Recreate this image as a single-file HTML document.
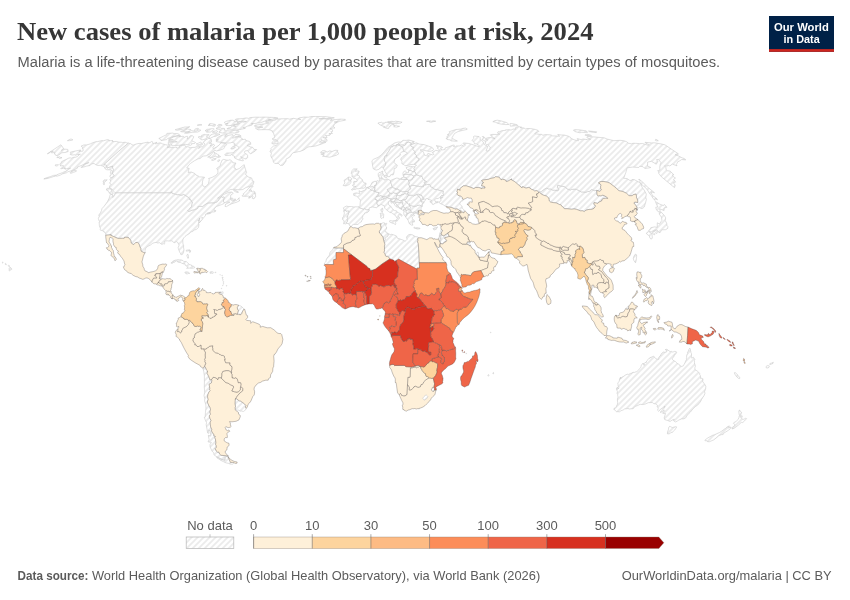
<!DOCTYPE html>
<html lang="en"><head><meta charset="utf-8"><title>New cases of malaria per 1,000 people at risk, 2024</title>
<style>
html,body{margin:0;padding:0;background:#fff;}
body{width:850px;height:600px;overflow:hidden;position:relative;font-family:"Liberation Sans",sans-serif;}
svg{position:absolute;left:0;top:0;font-family:"Liberation Sans",sans-serif;}
.nd path{fill:url(#h);stroke:#c6c6c6;stroke-width:.55;stroke-linejoin:round;}
.dt path{stroke:#403a38;stroke-opacity:.6;stroke-width:.5;stroke-linejoin:round;}
.title{font-family:"Liberation Serif",serif;font-weight:bold;font-size:24.6px;fill:#363636;}
.sub{font-size:14px;fill:#5b5b5b;}
.foot{font-size:12.2px;fill:#5b5b5b;}
.lg text{font-size:13px;fill:#5b5b5b;}
</style></head><body>
<svg width="850" height="600" viewBox="0 0 850 600">
<defs>
<pattern id="h" width="6" height="6" patternUnits="userSpaceOnUse" patternTransform="translate(3,0)">
<rect width="6" height="6" fill="#fff"/><path d="M-1.5,1.5L1.5,-1.5M0,6L6,0M4.5,7.5L7.5,4.5" stroke="#ebebeb" stroke-width="1.7"/>
</pattern>
</defs>
<rect width="850" height="600" fill="#fff"/>
<g class="nd">
<path d="M396.3,260.5L394.8,261.5L393.5,260L389.9,258.9L388.9,257.3L387.1,256.1L386,256.5L385.2,255.1L385.1,254L383.7,252.1L384.6,251L384.4,249.3L384.6,247.9L384.4,246.7L384.8,244.6L384.6,243.4L383.8,241L384.9,240.4L385.1,239.3L384.8,238.3L386.3,237.2L386.9,236.4L388,235.7L388,233.7L390.6,234.6L391.5,234.3L393.4,234.8L396.4,235.9L397.5,238.3L399.5,238.8L402.7,239.9L405.1,241.2L406.1,240.5L407.1,239.3L406.5,237.3L407.1,236L408.6,234.8L410.1,234.4L413.1,235L413.9,236.1L414.8,236.1L415.5,236.6L417.7,236.9L418.3,237.8L417.6,239L418,240.1L417.5,241.7L418.3,243.8L418.9,253.1L419.3,262.7L419.5,268L416.9,268L416.9,269.1L407.7,264.1L398.6,259.1Z"/>
<path d="M427.2,395.8L427.9,396.6L427.2,397.9L426.7,398.7L425.5,399.1L425,400L424.2,400.2L422.7,398.2L424,396.6L425.2,395.5L426.3,395Z"/>
<path d="M343.5,248L343.5,248.7L343.4,252.6L336,252.5L336,259.2L333.8,259.4L333.3,260.7L333.6,264.5L324.8,264.5L324.3,265.4L324.4,264.3L324.5,263L325.4,262.3L326.2,261L326,260.1L326.9,258.3L328.2,256.6L328.9,256.2L329.6,254.6L329.7,253.2L330.5,251.6L332.1,250.7L333.5,248L333.5,247.9Z"/>
<path d="M434.5,390L434,391.2L432.7,391.5L431.4,390L431.5,389.1L432.2,388.2L432.4,387.4L433.1,387.2L434.2,387.7L434.4,388.9Z"/>
<path d="M383.8,241L382.8,236.4L381.4,235.3L381.3,234.7L379.5,233.1L379.3,231.1L380.6,229.7L381,227.5L380.6,225.1L381,223.7L383.3,222.7L384.8,223L384.8,224.3L386.6,223.3L386.8,223.8L385.8,225.1L385.8,226.3L386.6,227L386.4,229.2L385,230.5L385.4,232L386.6,232L387.2,233.2L388,233.7L388,235.7L386.9,236.4L386.3,237.2L384.8,238.3L385.1,239.3L384.9,240.4Z"/>
<path d="M477,255.5L476.6,253.6L477.1,252.3L477.7,252L478.4,252.8L478.6,254.3L478.3,255.9L477.7,256.1Z"/>
<path d="M626,308.4L626.9,307.4L628.8,306L628.7,307.3L628.7,308.9L627.6,308.8L627.1,309.7Z"/>
<path d="M636.6,256.5L636.1,260.7L635.5,262.8L633.9,260.6L633.3,258.7L634,256.1L635.4,254.1L636.6,254.9Z"/>
<path d="M656.7,231L657.3,231.9L656.8,233.5L655.5,232.7L654.7,233.3L654.7,234.8L653,234L652.5,232.8L653,231.2L654.4,231.5L654.8,230.5ZM666.7,223.2L666.9,225.3L667.9,226.6L667.7,228.4L665.5,229.7L661.7,229.8L660,232.8L658.1,231.8L657.1,229.8L653.6,230.4L651.5,231.7L649,231.7L652,233.6L652.3,238.1L651.3,239.2L649.9,238.1L649.5,235.8L647.8,235L646.2,233.2L647.9,232.4L648.4,230.8L650,229.4L650.8,227.7L654.7,226.9L657.3,227.4L657.3,222.8L659.4,224L661.2,221.4L661.9,220.4L661.5,217.2L659.4,214.3L659.3,212.7L661.3,212.2L664.6,215.8L665.7,217.9L665.2,220.5ZM661.9,205L663.7,205.5L664.4,204.4L666.9,207.3L664.2,208L664.1,210.6L659.6,208.8L660.3,211.7L658,211.7L656.1,209.1L655.8,207.2L657.9,207L656.2,203.5L655.4,201.5L659.7,204.1Z"/>
<path d="M539.4,191.9L541.3,191.5L544.1,189.3L546.5,188.1L548.6,188.9L550.7,188.9L552.7,190.1L554.7,190.2L558,190.8L558.9,189.1L557.3,187.6L557.8,185L560.7,186L562.6,186.3L565.4,186.9L566.9,188.8L570.3,189.9L571.9,189.4L574.3,189.1L576.5,189.4L579.1,190.6L581.1,191.9L583,191.9L585.8,192.3L587.2,191.7L589.6,191.3L591.4,189.5L592.8,189.8L594.4,190.6L596.7,190.4L596.9,192.3L597,194.9L598.2,195.9L599.1,195.6L601.4,196L602.3,195L604.5,195.8L607.4,197.6L607.7,198.5L605.9,198.2L603.2,198.6L602.1,199.3L601.6,201L599,202L597.7,203.4L595.3,202.8L594,202.6L593.8,204.3L595,205.2L595.8,206.1L594.8,207L594,208.3L592,209.3L588.9,209.4L585.9,210.2L584.2,211.6L582.8,210.8L580.3,210.8L576.5,209.3L574.2,208.9L571.6,209.2L567,208.7L564.7,208.7L562.8,207.2L560.8,204.8L559.4,204.5L556.2,202.9L553.2,202.6L550.6,202.1L549.3,201L548.8,198L546.4,196L543.1,195L540.8,193.7Z"/>
<path d="M177.5,259.6L179.4,259.8L181.2,259.9L183.2,260.7L184,261.7L186.1,261.4L186.8,262L188.5,263.6L189.8,264.8L190.6,264.8L191.8,265.3L191.6,266L193.3,266.2L194.8,267.2L194.5,267.8L193,268.2L191.4,268.3L189.9,268.1L186.6,268.3L188.3,266.9L187.5,266.2L186,266L185.3,265.3L185,263.8L183.7,263.9L181.7,263.2L181,262.6L178.2,262.2L177.4,261.7L178.4,261.1L176.2,260.9L174.4,262.3L173.4,262.3L173,263L171.9,263.3L170.9,263L172.2,262.2L172.8,261.3L173.9,260.7L175.2,260.2L176.9,259.9Z"/>
<path d="M186.6,271.9L188.1,272.1L189.3,272.8L189.6,273.5L188,273.5L187.2,274L186,273.6L184.8,272.6L185.2,272L186.1,271.8Z"/>
<path d="M212.3,271.8L213.4,272.1L213.8,272.6L213.1,273.3L211.4,273.2L210.1,273.3L210.1,272.2L210.4,271.8Z"/>
<path d="M188.4,258.1L187.8,258.3L187.4,256.8L186.7,256L187.4,254.4L188.1,254.5L188.5,256.6ZM188.8,250.8L186.3,251.2L186.3,250.2L187.4,250L188.9,250.1ZM190.7,250.8L190,252.6L189.6,252.3L189.9,250.9L189,249.9L189.1,249.6Z"/>
<path d="M172.2,191.7L171.8,193.1L172.3,193.5L173.6,193.6L175.5,194.1L177,194.8L178.8,194.5L181,195.2L181.7,195.1L183.8,194.4L185.3,195.3L186.9,196.3L188.2,197.2L189.4,198L189.3,198.7L189.7,198.9L189.4,199.2L190,199.3L190.5,199L190.3,199.6L190.6,200L191.1,200L191.3,200.3L190.9,200.8L192.5,202L192,204.3L191.6,206.5L190.4,208.1L188.9,209.5L188.1,210.4L187.9,210.7L188,211L188.6,211.4L189.1,211.4L192.1,210.1L194.4,209.7L197.6,208.4L197.7,208.1L197.8,207.3L197.7,206.8L198.8,206.4L200.8,206.4L202.7,206.4L203.8,205.4L204.1,205.2L207,203.3L208.1,202.9L211.2,202.8L215,202.8L215.4,202.2L216.1,202.1L217.2,201.7L218.3,200.5L219.6,198.5L221.8,196.6L222.3,197.3L223.8,196.8L224.5,197.6L223.3,201.1L224.2,202.5L224.2,203.4L221.6,204.6L219.2,205.5L216.8,206.3L215.1,207.8L214.6,208.4L214.1,209.7L214.4,211.1L215.2,211.2L215.3,210.2L215.8,210.8L215.4,211.5L213.8,212L212.8,211.9L211.1,212.4L210.2,212.5L208.9,212.6L206.9,213.4L210.1,212.9L210.6,213.4L207.4,214.1L206.1,214.1L206.2,213.8L205.4,214.5L205.9,214.7L204.9,216.5L202.8,218.5L202.8,217.9L202.4,217.7L201.9,217.1L201.9,218.5L202.3,218.9L202,219.9L201,220.9L199.2,223L199.1,222.9L200.2,221.1L199.4,220.1L199.8,218L199.1,219.1L199,220.8L197.8,220.4L199,221.2L198.4,223.7L198.9,223.8L198.9,224.7L198.5,227.4L196.6,229.3L194.2,230.1L192.4,231.6L191.2,231.8L189.9,232.7L189.4,233.6L186.5,235.3L185,236.5L183.6,238.1L182.8,239.9L182.8,241.8L183,244L183.7,245.8L183.5,247L184,250L183.6,251.8L183.3,252.8L182.5,254.4L181.8,254.7L180.7,254.4L180.6,253.2L179.8,252.6L179,250.4L178.3,248.4L178.2,247.4L179,245.6L178.7,244.2L177.4,242L176.6,241.6L174.1,242.8L173.8,242.7L173,241.5L171.7,240.8L169.2,241.1L167.3,240.8L165.5,241L164.5,241.4L164.8,242.1L164.5,243.2L164.8,243.7L164.3,244L163.6,243.7L162.6,244.2L161,244.1L159.7,242.7L157.7,243L156.2,242.4L154.8,242.6L152.8,243.2L150.3,245.1L147.8,246.3L146.3,247.5L145.5,248.7L145.1,250.5L145,251.7L145.2,252.6L144.3,252.7L142.9,252.1L141.3,251.3L140.9,250.1L140.8,248.3L139.9,246.8L139.5,245.3L138.8,243.5L137.5,242.4L135.7,242.5L133.8,244.5L132.1,243.8L131.2,243L131,241.5L130.7,240.2L129.7,239L128.9,238.2L128.3,237.3L124.5,237.3L124.2,238.3L122.4,238.3L118,238.4L113.6,236.5L110.8,235.3L111.1,234.7L108.3,235L105.7,235.2L105.8,233.9L104.9,232.4L104,232.1L104.1,231.3L102.9,231.2L102.4,230.5L100.5,230.2L100.1,229.8L100.4,228.4L99.4,225.8L99.2,222.1L99.6,221.5L99,220.7L98.4,218.5L99.2,216.4L98.8,215L100.4,212.8L101.5,210.6L102,208.6L104.2,206.2L105.8,203.9L107.5,201.5L109.2,198.1L109.9,195.9L110.1,194.7L110.7,194.2L113.1,195.1L112.6,197.5L113.6,196.8L114.5,194.7L115.2,192.7L120.9,192.7L126.9,192.7L128.9,192.7L135,192.7L141,192.7L147,192.7L153.1,192.7L159.9,192.7L166.8,192.7L171,192.7L171.5,191.7ZM73.4,172.4L70.6,173.4L70.2,172.7L71.2,171.6L73.8,170.7L75.2,170.4L76.3,170.5L76.3,171.3ZM57.5,165.7L56,166.1L55.3,165.6L55,165L57.3,164.6L58.5,164.8ZM58,156.6L58.5,157L60,156.8L60.6,157.4L62,157.7L61.5,157.9L59.5,158.4L58.8,157.9L58.7,157.5L56.9,157.6L56.8,157.4ZM109.3,140.1L109.1,141L110.4,140.6L113,140.7L112.2,141.2L114.2,141.6L116.2,141.4L118.8,142.1L121.7,142.3L122.6,142.6L125.2,142.2L126.9,142.9L128.3,143.2L118.4,151.5L103.8,164.8L105.6,164.8L106.7,165.5L106.9,166.5L107,168.1L110.1,166.8L112.8,166L112.5,167.2L112.8,168.2L113.5,169.3L113.1,171L112.5,173.8L114.3,175.4L113.1,176.9L111,178.1L110.7,177.2L109.7,176.4L111,174.3L110.4,172.3L111.5,170L109.8,169.8L106.9,169.8L105.4,169.1L104,166.6L102.7,166.1L100.4,165.3L97.6,165.5L95.2,164.4L94.1,163.4L91.5,163.9L90.1,165.5L88.9,165.7L86.2,166.2L83.7,167L81.1,167.5L82.4,166.1L85.8,163.8L88.6,163L88.7,162.4L84.9,163.7L81.9,165.3L77.4,167L77.4,168.2L73.8,169.9L70.7,171L68,171.7L66.4,172.8L62,174L60.2,175.2L56.9,176.2L55.7,176L53.2,176.7L50.4,177.6L47.9,178.4L43.8,179.1L44,178.7L47.3,177.5L50,176.8L53.5,175.4L56.2,175.2L58.2,174.2L62.4,172.7L63.4,172.2L65.7,171.3L68,169.5L70.6,168.1L67.6,168.8L67.5,168.4L65.5,169.3L65.6,168L64.2,168.9L64.8,167.7L61.9,168.7L60.7,168.7L62.2,167.2L63.6,166.4L63.4,165.5L60.5,166L60.3,164.8L59.7,164.3L61.3,162.9L61.2,161.9L63.6,160.6L66.7,159.2L68.9,158L70.5,157.9L71.3,158.2L74.1,157.1L75.2,157.3L77.4,156.6L78.5,155.5L78,155.1L80.4,154.2L79.3,154.3L76.8,154.8L75.6,155.3L74.9,154.8L72.1,155L70.2,154.5L70.7,153.5L70.3,152.2L74,151.3L79.4,150.2L80.8,150.2L79.1,151.3L82.8,151.2L83.3,149.8L82.4,148.9L82.7,147.8L82.4,146.9L81.1,146.2L83.7,145L86.8,144.9L90.3,143.9L92.3,142.9L95.5,141.8L97.5,141.6L102,140.6L103.3,140.8L107.5,139.6ZM9.9,270.4L9.4,270.8L8.9,270.4L9.2,269.7L9,268.7L9.2,268.5L9.7,268L9.7,267.5L9.8,267.3L10,267.3L10.8,267.8L11.1,268L11.4,268.3L11.8,269.3L11.7,269.4L10.7,270ZM9.6,266.3L8.8,266.5L8.5,265.9L8.3,265.7L8.3,265.5L8.6,265.3L9.3,265.6L9.8,266ZM6.4,264.5L6.3,264.7L6.1,264.6L5.4,264.5L5.2,263.9L5.1,263.8L5.8,263.5L6,263.7ZM3,262.8L2.7,263L2.1,262.6L2.2,262.4L2.6,262.1L3.1,262.2Z"/>
<path d="M232.5,198.9L233.8,199.2L235.8,199.2L234.4,200.2L233.6,200.4L231.3,199.3L231.1,198.4L232.1,197.7ZM238.3,192.4L237.3,192.4L235,191.6L233.6,190.4L234.3,190.2L236.7,190.9L238.4,191.9ZM113,193.9L111.8,194.3L109.2,193.1L109.2,192.2L108,191.3L108.2,190.6L106.4,190.1L106.7,188.8L107.3,188.2L108.9,188.7L109.9,189.1L111.6,189.4L111.7,190.3L111.8,191.5L113.1,192.5ZM251,188.4L249,190.6L250.6,189.7L251.7,190.3L250.8,191.2L252.3,191.9L253.4,191.2L255.2,192L254.1,193.9L255.6,193.4L255.5,194.8L255.7,196.4L254.2,198.6L253.3,198.7L252.1,198.2L253.1,196.2L252.6,195.8L249.6,198L248.4,197.9L250.2,196.8L248.4,196.1L246.2,196.3L242.3,196.2L242.2,195.5L243.7,194.6L243.1,193.9L245.2,192.3L248.6,188.3L250.3,186.9L252.3,186L253.2,186.1L252.6,186.8ZM104.5,179.7L105.2,180L107.2,179.8L104.3,182.6L104.4,184.6L103.6,184.6L103.3,183.5L103.5,182.3L103.2,181.6L103.7,180.5ZM219.8,160.4L218.4,161.6L217.7,161.4L217.7,160.7L217.8,160.5L219,159.8L219.7,159.9ZM215.9,159.1L213,160.4L211.7,160.3L211.7,159.7L213.8,158.6L216.2,158.6ZM214.6,152.2L214.3,153.3L215.4,152.9L216,153.5L217.4,154.3L218.9,155L218.4,156.1L219.8,155.9L220.6,156.7L218.6,157.4L216.1,156.9L215.8,155.8L213.3,157.1L209.9,158.3L210.2,156.9L207.7,157.1L210,156L211.4,154.2L213.5,152.1ZM130.8,143.7L132.1,144.8L133.6,145L136.2,144L139,143.4L141.2,143.6L144.8,142.7L148.2,142.1L148.3,143L150.1,142.5L151.6,141.5L152.5,141.7L153.1,143.7L157,142.2L155.3,143.9L157.8,143.5L159.1,142.9L161,143L162.5,143.9L165.6,144.7L167.5,145.1L169.3,144.9L170.5,146.1L167,147.2L169.6,147.7L174.5,147.4L176.3,147L176.9,148.3L179.8,147.2L178.9,146.3L180.7,145.5L182.8,145.4L184.4,145.2L185.3,145.7L185.9,146.9L187.9,146.7L190.1,147.7L193,147.4L195.4,147.4L196.4,146.1L198.2,145.7L200.2,146.4L198.5,148.5L201,146.8L202.3,146.8L204.9,144.6L204.3,143.2L203.1,142.4L205.3,140L208.7,138.4L210.5,138.8L211.3,139.7L211.5,142.1L209.1,143.2L211.9,143.6L210.1,145.9L213.7,144.2L214.6,145.6L212.8,147.2L213.3,148.8L216.3,147.1L219,145.2L220.9,142.8L223.1,143L225.3,143.3L226.8,144.4L226.1,145.5L224,146.7L224.4,147.9L223.4,148.9L219,150.5L216.3,150.9L215,150.2L213.7,151.3L210.7,153.3L209.4,154.3L206.3,155.8L203.7,156L201.6,157L200.4,158.5L198.1,158.8L194.5,160.7L190.7,163.3L188.7,165.2L186.7,168L189.2,168.4L188.5,170.7L188.2,172.5L191.2,172L194,173.1L195.4,174L196.1,175.2L198.1,175.9L199.5,176.9L202.6,177L204.6,177.3L203.1,179.4L202.4,181.9L202.4,184.7L204.2,187.1L206.1,186.3L208.4,183.7L209.3,179.8L208.6,178.5L212.3,177.3L215.4,175.6L217.3,173.9L218,172.2L217.8,170.2L216.6,168.4L220.2,165.8L220.6,163.7L222.2,160L223.7,159.4L226.4,160.1L228.2,160.3L230,159.7L231.2,160.5L232.7,161.9L232.8,162.8L235.9,163L234.9,165L233.9,168L235.5,168.4L236.1,169.8L239.5,168.4L242.5,165.8L244.2,164.7L244.7,166.8L245.7,169.9L246.6,172.8L245.2,174.3L247.1,175.7L248.3,177.1L251.1,177.8L252.1,178.6L252.1,180.7L253.5,181L253.9,181.9L253.1,184.7L251.4,185.7L249.6,186.5L246.1,187.4L242.9,189.5L239.3,189.9L235.2,189.4L232.3,189.4L230.1,189.5L227.8,191.4L224.8,192.5L220.7,195.8L217.5,198.2L219.3,197.8L223.8,194.4L228.8,192.3L231.9,192.1L233.3,193.3L230.8,195L230.5,197.8L230.5,199.7L232.8,201L236.3,200.6L239.3,197.7L238.8,199.6L239.9,200.5L236.8,202.2L231.8,203.7L229.4,204.8L226.5,206.6L225,206.4L225.6,204.2L229.9,202.1L226.6,202.2L224.2,202.5L223.3,201.1L224.5,197.6L223.8,196.8L222.3,197.3L221.8,196.6L219.6,198.5L218.3,200.5L217.2,201.7L216.1,202.1L215.4,202.2L215,202.8L211.2,202.8L208.1,202.9L207,203.3L204.1,205.2L203.8,205.4L202.7,206.4L200.8,206.4L198.8,206.4L197.7,206.8L197.8,207.3L197.7,208.1L197.6,208.4L194.4,209.7L192.1,210.1L189.1,211.4L188.6,211.4L188,211L187.9,210.7L188.1,210.4L188.9,209.5L190.4,208.1L191.6,206.5L192,204.3L192.5,202L190.9,200.8L191.3,200.3L191.1,200L190.6,200L190.3,199.6L190.5,199L190,199.3L189.4,199.2L189.7,198.9L189.3,198.7L189.4,198L188.2,197.2L186.9,196.3L185.3,195.3L183.8,194.4L181.7,195.1L181,195.2L178.8,194.5L177,194.8L175.5,194.1L173.6,193.6L172.3,193.5L171.8,193.1L172.2,191.7L171.5,191.7L171,192.7L166.8,192.7L159.9,192.7L153.1,192.7L147,192.7L141,192.7L135,192.7L128.9,192.7L126.9,192.7L120.9,192.7L115.2,192.7L114.9,192.6L112.7,190.2L112.1,189.1L109.2,188L109.8,185.8L111.2,184.3L109.5,183.2L110.8,181.2L109.9,179.4L111,178.1L113.1,176.9L114.3,175.4L112.5,173.8L113.1,171L113.5,169.3L112.8,168.2L112.5,167.2L112.8,166L110.1,166.8L107,168.1L106.9,166.5L106.7,165.5L105.6,164.8L103.8,164.8L118.4,151.5L128.3,143.2ZM227.3,134.5L224.9,135.8L225,137.1L228,135.4L232.7,134.6L233.7,136.7L232.3,138.1L236,137.5L238.2,136.7L240.9,137.7L242.4,138.7L242,139.7L245.3,139.2L246.1,140.6L249.5,141.4L250.4,142.3L250.8,144.3L247.1,145.4L250.2,146.8L252.6,147.3L254,149.4L256.6,149.5L255.2,151.1L250.8,153.8L249.2,152.8L247.6,150.6L245.2,150.9L244.3,152.2L245.4,153.5L247.2,154.6L247.6,155.2L247.6,157.5L246.2,159.1L244.2,158.5L240.7,156.6L242.2,158.7L243.3,160.1L243.2,160.9L238.8,160L235.7,158.6L234.1,157.5L235.1,156.8L233.2,155.6L231.3,154.5L230.9,155.2L225.6,155.5L224.6,154.7L226.8,153L230.1,153L233.8,152.7L233.8,151.9L235,150.8L238.6,148.6L238.8,147.6L238.6,146.8L236.7,145.7L233.8,145L235.2,144.4L234.4,143L233,142.9L232.2,142.2L230.9,142.8L227.7,143.1L222,142.6L219,142L216.6,141.7L215.8,140.9L218.3,139.9L216,139.9L217.4,137.7L220.3,135.9L222.7,135ZM179.7,135.5L180.8,135.9L178.9,136.9L183.2,136.2L184.2,137.3L187.2,136.2L187.9,136.9L187.1,139L188.8,138.1L190,135.9L191.7,135.6L192.9,136L193.8,136.8L192.7,138.9L191.7,140.4L193.5,141.5L195.5,142.5L194.4,143.5L191.5,143.6L191.8,144.5L190.6,145.3L187.8,144.9L185.5,144.3L183.4,144.5L179.6,145.2L175,145.6L171.8,145.8L171.9,144.7L170.2,144.1L168.5,144.4L168.2,142.6L169.6,142.4L172.5,142L174.8,142.1L177.3,141.8L174.6,141.2L170.9,141.4L168.6,141.4L168.6,140.6L173.4,139.7L170.8,139.7L168.6,139.2L171.8,137.6L173.9,136.8ZM172.6,133.1L174.3,133.6L178.1,133.7L178.9,134.3L179.6,135.1L176.9,135.7L171.3,137.1L167.5,138.6L166.5,139.6L161,140.6L161.2,139.7L158.8,138.5L160.6,137.6L163.6,136.1L166.7,134.7L166.9,133.4ZM269.6,117.3L273.1,117.4L275.9,117.6L278,118L277.6,118.4L273.6,119.1L269.9,119.4L268.3,119.8L271.3,119.8L267.1,120.8L264.3,121.3L260.5,122.7L257.2,123L255.9,123.4L251.4,123.6L253.1,123.8L251.8,124.1L252.1,125L250.1,125.7L247.2,126.2L245.8,127L243.1,127.6L242.9,128L245.6,127.9L245.1,128.4L239.9,129.6L236.5,129.1L231.7,129.4L229.7,129.1L226.9,129L227.8,128.1L231,127.6L231.8,126.2L232.9,126.1L236,126.9L235.3,125.7L233.3,125.3L235.3,124.6L238.4,124.2L239.5,123.5L238.3,122.8L238.8,121.9L242.6,122L243.5,122.2L246.4,121.5L243.5,121.3L238.4,121.4L236.6,120.9L236.3,120.2L235.2,119.7L235.7,119.1L238.1,118.8L239.8,118.8L242.9,118.5L245.6,118L247.2,118L248.2,118.5L250.2,117.6L252.3,117.4L255,117.2L259.2,117.2L259.7,117.3L263.9,117.1L266.8,117.2ZM217.4,132L215.8,132.8L213.6,132.7L212.3,132.1L214.1,131.2L217,130.7L217.5,131.4ZM219,132.3L219.6,131.2L220.5,130.2L219.9,129.3L217,129.1L216,128.5L217.5,127.7L220.5,127.8L221.4,128.4L224.4,128.4L225,129.1L223.8,129.8L225.1,130.3L225.6,130.8L227.6,130.8L229.6,131L232.5,130.6L235.8,130.4L238.2,130.6L239.1,131.3L238.7,132.2L237.3,132.7L234.5,133.1L232.8,132.9L228,133.2L224.7,133.2L222.5,133ZM226.6,121.3L228.3,120.8L229.9,120.7L229.8,120.3L233.2,120.2L233.8,121.1L235.7,121.5L237.7,121.8L237.4,123L238.5,123.5L235.9,124.1L231.5,125.5L228.8,125.6L226,125.4L225.3,124.6L226.2,124L227.9,123.5L225.3,123.5L224.5,122.9L224.6,122.1ZM197.8,129.6L197.5,130.3L199.3,129.9L200.8,130L199.9,131L197.8,132L192.1,132.3L187.1,133.2L184.6,133.2L185.3,132.6L189.6,131.7L182.3,131.9L180.6,131.5L185.4,129.6L187.6,129L191,129.7L192.2,130.9L194.6,131L194.9,129.1L197.3,128.4L198.5,128.6ZM204.4,134.4L205.8,134.8L208.9,134.5L208.7,135.2L206.3,136.2L207.8,137.1L205.7,139L202.3,139.8L200.9,139.6L200.5,138.8L198.1,137.2L198.8,136.5L201.8,136.7L201.5,135.4ZM213.6,136.6L210.4,138.2L208.6,138.1L209.4,136.3L210.4,135.2L212.1,134.3L214.2,133.8L217.5,133.8L220,134.3L215.9,136.2ZM213.8,128.5L213.9,129.4L212.8,130.5L210.4,132L207.6,132.2L206.3,131.9L207.7,130.7L205,130.9L206.8,129.3L208.3,129.3L211.4,128.7L213.4,128.8ZM189.7,126.7L187.3,128.2L185.2,128.9L183.6,129L179.6,129.9L176.7,130.2L175.2,129.7L180,128.3L184.9,127L187.2,127ZM200.3,142.2L201.5,142.9L202.2,143.2L202.6,144.5L200.9,145.3L199.2,144.6L197.7,144.8L196.2,143.9L198.3,143.2ZM209.9,123.6L212.4,123.8L215.4,124.5L215.4,125.4L214.9,126.2L212.8,126L211.1,125.4L208,125.3L210.1,124.8L209,124.3ZM200.6,124.5L201.9,124.9L199.6,125.3L197.2,125.3L197.6,125L199.9,124.4ZM221,125.9L218.3,126.3L217.6,125.9L217.9,125.2L218.8,124.4L220.6,124.5L221.3,124.6L222.2,125.2ZM235.1,136.6L234.3,135.4L235,134.7L235.8,134.5L239.3,134.8L241.1,135.9L240.8,136.5L239.2,136.4L237.5,136.4L235.5,136.7ZM234.5,146.3L235.4,146.9L234.8,147.9L234.4,148.2L232.9,148.9L230.9,149L231.2,147.9L232.8,146.6Z"/>
<path d="M298.7,118L303.9,117.1L308.6,117.2L310.7,116.6L315.5,116.5L326.2,116.7L334.3,117.8L331.6,118.4L326.3,118.5L318.8,118.7L319.3,118.9L324.3,118.8L328.3,119.3L331.2,118.8L332.1,119.4L330.3,120.4L334,119.7L341,119.1L345.1,119.4L345.7,120.1L339.7,121.3L338.8,121.7L334.2,122L337.5,122.1L335.5,123.4L334,124.6L333.5,126.7L335,128L332.6,128.1L330,128.7L332.6,129.8L332.5,131.5L330.8,131.7L332.5,133.4L328.9,133.6L330.6,134.4L329.9,135.2L327.6,135.5L325.4,135.5L327,136.9L326.9,137.9L323.9,137L322.9,137.5L325,138.1L326.8,139.4L327.1,141.1L324.1,141.5L323,140.7L321.2,139.5L321.4,140.9L319.3,142.1L323.6,142.1L325.9,142.3L321,144.2L316,145.9L310.9,146.7L309,146.7L307,147.5L304,149.9L299.8,151.5L298.6,151.6L296.1,152.2L293.4,152.7L291.5,154.1L290.9,155.7L289.5,157.3L286,159.1L286.1,161L284.7,162.9L283,165.2L280.4,165.4L278.3,163.4L274.7,163.4L273.4,162.1L273,159.8L271.1,156.9L270.8,155.4L271.4,153.3L269.9,151.2L271.3,149.6L270.5,148.8L273.3,146.2L276.2,145.3L277.3,144.4L278.4,142.7L276.2,143.5L275.1,143.8L273.5,144.1L271.8,143.4L272.4,141.9L273.6,140.8L275.2,140.7L278.2,141.3L276.1,139.9L275,139.2L273.2,139.5L272.1,139L275,137L274.5,136.2L274,134.8L273.4,132.6L272,131.8L272.6,130.9L269.3,129.8L266.1,129.6L262,129.7L258.1,129.8L256.9,129.2L255.3,128L259.8,127.3L262.9,127.2L256.9,126.7L254.3,126L255.2,125.2L261.6,124.3L267.7,123.4L268.8,122.8L265.5,122.1L267.4,121.4L273.4,120.3L275.6,120.1L275.7,119.3L279.3,118.9L283.8,118.7L288.1,118.7L289.2,119.2L293.5,118.3L296.4,118.9L298.2,119L300.8,119.5L298.1,118.7Z"/>
<path d="M337.8,150.4L337.2,151.9L339,153.5L336.5,155.2L331.2,156.8L329.6,157.2L327.3,156.9L322.5,156.2L324.4,155.1L320.8,154L324,153.6L324,152.9L320.5,152.4L322,150.9L324.6,150.5L327.1,152.1L329.9,150.8L332,151.5L335,150.3Z"/>
<path d="M350.8,180.4L351.1,182.2L349.5,184.4L345.9,185.9L343.1,185.5L344.9,182.9L344,180.4L346.8,178.5L348.3,177.3L348.6,178.6L348.1,180L349.4,179.9Z"/>
<path d="M351.9,178.7L350.8,180.4L349.4,179.9L348.1,180L348.6,178.6L348.3,177.3L349.9,177.2ZM357.2,168.8L355.2,171.4L357.1,171L359.2,171.1L358.6,173L356.9,175.2L358.9,175.4L359,175.7L360.7,178.6L362,179L363.2,181.8L363.8,182.8L366.1,183.2L365.9,184.8L364.9,185.6L365.7,186.9L363.9,188.2L361.3,188.2L357.9,188.9L357,188.4L355.6,189.5L353.8,189.3L352.3,190.2L351.3,189.7L354.3,187.1L356.1,186.5L353,186.1L352.5,185.1L354.5,184.3L353.5,183L353.9,181.4L356.8,181.6L357.1,180.1L355.9,178.6L353.5,178.2L353.1,177.5L353.8,176.4L353.2,175.7L352.1,176.9L352.1,174.5L351.2,173.3L352,170.7L353.5,168.8L355,169Z"/>
<path d="M343.8,210.9L344.6,210.2L345.5,209.9L346,211.1L347.2,211.1L347.6,210.8L348.8,210.9L349.4,212.2L348.4,212.9L348.3,214.9L347.9,215.3L347.8,216.5L346.9,216.7L347.7,218.3L347,220L347.8,220.8L347.5,221.5L346.6,222.5L346.8,223.3L345.9,224L344.8,223.6L343.6,223.9L344,221.9L343.9,220.3L342.9,220L342.5,219.1L342.7,217.4L343.6,216.4L343.8,215.4L344.3,213.8L344.3,212.7L343.9,211.8Z"/>
<path d="M343.8,210.9L344,209.1L343.2,207.9L346.2,206.1L348.8,206.6L351.6,206.5L353.8,207L355.5,206.8L358.9,206.9L359.7,207.9L363.6,209.1L364.3,208.5L366.7,209.7L369.1,209.4L369.2,210.9L367.3,212.6L364.6,213.1L364.4,214L363.1,215.5L362.3,217.6L363.1,219.1L361.8,220.2L361.4,221.9L359.8,222.4L358.2,224.4L355.5,224.5L353.4,224.4L352,225.3L351.2,226.3L350.1,226.1L349.4,225.2L348.8,223.7L346.8,223.3L346.6,222.5L347.5,221.5L347.8,220.8L347,220L347.7,218.3L346.9,216.7L347.8,216.5L347.9,215.3L348.3,214.9L348.4,212.9L349.4,212.2L348.8,210.9L347.6,210.8L347.2,211.1L346,211.1L345.5,209.9L344.6,210.2Z"/>
<path d="M353.6,193.5L356.2,192.9L359.6,193.6L359,190.7L360.9,191.8L365.5,189.8L366.1,187.7L367.8,187.2L368.1,188.1L369.1,188.2L370,189.2L371.4,190.4L372.5,190.2L374.2,191.3L374.7,191.5L375.3,191.5L376.3,192.1L379.2,192.6L378.2,194.3L378,196.2L377.5,196.6L376.6,196.4L376.6,197L375.2,198.4L375.2,199.6L376.2,199.2L376.9,200.3L376.9,201L377.5,202L376.8,202.8L377.4,204.8L378.5,205.1L378.3,206.2L376.5,207.7L372.4,207L369.3,207.8L369.1,209.4L366.7,209.7L364.3,208.5L363.6,209.1L359.7,207.9L358.9,206.9L360,205.4L360.4,200.3L358.3,197.6L356.8,196.3L353.7,195.3ZM382.9,210.2L382.3,212.2L381.4,211.7L380.8,209.9L381.2,209L382.5,208Z"/>
<path d="M369.4,186.7L370.9,186.9L372.7,186.4L374,187.5L375.1,188.1L374.9,189.8L374.4,189.9L374.2,191.3L372.5,190.2L371.4,190.4L370,189.2L369.1,188.2L368.1,188.1L367.8,187.2Z"/>
<path d="M374.7,181.3L376.3,181.4L376.7,182.2L376.3,184.5L375.9,185.5L374.7,185.5L375.1,188.1L374,187.5L372.7,186.4L370.9,186.9L369.4,186.7L370.4,186L372.1,182.4Z"/>
<path d="M374.9,189.8L375.4,190.4L375.3,191.5L374.7,191.5L374.2,191.3L374.4,189.9Z"/>
<path d="M382,177.7L382.1,178.6L384.1,179.2L384.1,180.1L386,179.6L387.1,178.9L389.3,179.9L390.3,180.7L390.9,182L390.4,182.6L391.2,183.5L391.8,184.9L391.7,185.7L392.7,187.3L391.8,187.6L391.3,187.3L390.8,187.8L389.4,188.3L388.7,188.9L387.3,189.5L387.7,190.2L388,191.3L389.1,191.9L390.3,193L389.7,194.1L388.9,194.5L389.3,196.1L389.2,196.6L388.5,196L387.5,196L386.1,196.4L384.3,196.3L384.1,197L383,196.3L382.4,196.4L380.2,195.6L379.8,196.2L378,196.2L378.2,194.3L379.2,192.6L376.3,192.1L375.3,191.5L375.4,190.4L374.9,189.8L375.1,188.1L374.7,185.5L375.9,185.5L376.3,184.5L376.7,182.2L376.3,181.4L376.7,180.9L378.3,180.7L378.7,181.3L379.9,180.1L379.4,179.1L379.3,177.7L380.8,178.1Z"/>
<path d="M382.4,196.4L382.5,196.9L382.2,197.5L383.1,197.9L384.2,198L384.1,199.1L383.2,199.5L381.7,199.2L381.3,200.2L380.3,200.3L379.9,199.9L378.8,200.8L377.8,200.9L376.9,200.3L376.2,199.2L375.2,199.6L375.2,198.4L376.6,197L376.6,196.4L377.5,196.6L378,196.2L379.8,196.2L380.2,195.6Z"/>
<path d="M397.3,194.9L397.2,195.9L396.1,195.9L396.5,196.5L396,198.1L395.6,198.6L393.8,198.6L392.8,199.2L391.1,199L388.2,198.3L387.7,197.5L385.7,197.9L385.5,198.4L384.2,198L383.1,197.9L382.2,197.5L382.5,196.9L382.4,196.4L383,196.3L384.1,197L384.3,196.3L386.1,196.4L387.5,196L388.5,196L389.2,196.6L389.3,196.1L388.9,194.5L389.7,194.1L390.3,193L391.8,193.8L392.9,192.7L393.6,192.6L395.2,193.3L396.2,193.2L397.1,193.7L397,194Z"/>
<path d="M388.2,198.3L391.1,199L391,200.3L391.6,201.4L389.9,201L388.3,201.9L388.5,203.2L388.3,203.9L389,205.2L391.1,206.5L392.2,208.6L394.7,210.7L396.4,210.7L396.9,211.3L396.4,211.8L398.3,212.7L399.9,213.5L401.9,214.9L402.1,215.3L401.8,216.3L400.5,215.1L398.6,214.6L397.9,216.3L399.5,217.3L399.3,218.6L398.4,218.8L397.4,221L396.5,221.2L396.5,220.4L396.8,219L397.3,218.5L396.3,217L395.6,215.7L394.7,215.3L394,214.2L392.6,213.7L391.6,212.7L390.1,212.5L388.4,211.4L386.3,209.7L384.8,208.2L384.1,205.6L383,205.3L381.3,204.5L380.4,204.8L379.2,206L378.3,206.2L378.5,205.1L377.4,204.8L376.8,202.8L377.5,202L376.9,201L376.9,200.3L377.8,200.9L378.8,200.8L379.9,199.9L380.3,200.3L381.3,200.2L381.7,199.2L383.2,199.5L384.1,199.1L384.2,198L385.5,198.4L385.7,197.9L387.7,197.5ZM396.1,220.4L395.5,222.4L395.8,223.2L395.5,224.6L393.8,223.6L392.7,223.3L389.6,222L389.8,220.6L392.3,220.9L394.5,220.6ZM382.3,212.6L383.7,214.5L383.5,217.9L382.5,217.7L381.7,218.6L380.8,217.9L380.6,214.8L380.1,213.3L381.3,213.4Z"/>
<path d="M387.2,176.1L386.2,178.1L384.1,176.7L383.7,175.7L386.5,174.9ZM383.6,174.1L383.2,175L382.6,174.7L381.4,176.5L382,177.7L380.8,178.1L379.3,177.7L378.4,176.4L378.2,173.9L378.5,173.2L379,172.5L380.7,172.3L381.3,171.6L382.8,171L382.8,172.2L382.3,173L382.6,173.7Z"/>
<path d="M408.9,140L414.4,141.6L412.5,142.1L414.7,143.5L412.1,144.4L410.8,144.6L411.1,143.1L408.7,142.2L406.3,142.9L405.9,144.5L404.5,145.5L402.6,145L400.4,145.1L398.3,143.9L397.4,144.5L396.4,144.6L396.4,146L393.2,145.7L392.9,146.9L391.3,146.9L390.4,148.5L389,151L386.7,154.2L387.4,155L386.9,155.9L385.1,155.9L384.2,158.1L384.6,161.2L385.8,162.4L385.5,165.2L384.1,166.8L383.4,168.2L382,166.8L378.5,169.5L376.1,170.1L373.4,168.9L372.7,166.3L371.9,160.8L373.5,159.3L378.1,157.3L381.4,154.9L384.3,151.7L387.9,147.4L390.6,145.7L394.7,142.9L398.2,142L400.9,142.1L403,140.3L406.1,140.4ZM399.6,126.3L396.5,127.1L393.7,126.7L394.6,126.2L393.6,125.6L396.5,125.2L397.3,125.9ZM389.1,122.9L394.3,124.2L390.8,125L390.3,126.4L389.1,126.7L388.7,128.4L386.9,128.4L383.5,127.2L384.7,126.5L382.4,126L379.2,124.4L377.9,123L381.7,122.3L382.6,123L384.7,122.9L385.1,122.3L387.2,122.3ZM399.1,121.6L402.1,122.2L400.3,123.2L396.2,123.4L391.8,123.1L391.4,122.6L389.4,122.6L387.6,121.8L391.9,121.3L394.1,121.7L395.3,121.2Z"/>
<path d="M401.4,152.1L400,153.7L400.5,155.1L398,157L394.9,159L394,162.3L395.5,164L397.4,165.3L396.1,168L394.2,168.6L394,172.6L393.2,174.9L390.8,174.7L389.9,176.6L387.7,176.7L386.9,174.4L385.1,171.7L383.4,168.2L384.1,166.8L385.5,165.2L385.8,162.4L384.6,161.2L384.2,158.1L385.1,155.9L386.9,155.9L387.4,155L386.7,154.2L389,151L390.4,148.5L391.3,146.9L392.9,146.9L393.2,145.7L396.4,146L396.4,144.6L397.4,144.5L399.9,145.6L402.8,147.1L403.5,150.6L404.3,151.4Z"/>
<path d="M410.8,144.6L410.9,146.1L413.9,147.6L412.7,149.3L415.4,151.9L414.7,153.9L416.7,155.6L416.3,157.1L419.3,158.7L418.9,159.9L417.6,161.3L414.3,164.3L411,164.5L408,165.3L405,165.8L403.8,164.5L401.9,163.8L401.9,161.4L400.7,159.3L401.3,157.9L402.7,156.5L406.2,154L407.3,153.5L406.9,152.5L404.3,151.4L403.5,150.6L402.8,147.1L399.9,145.6L397.4,144.5L398.3,143.9L400.4,145.1L402.6,145L404.5,145.5L405.9,144.5L406.3,142.9L408.7,142.2L411.1,143.1Z"/>
<path d="M408.6,170.8L408.5,169.4L407.9,169.7L406.6,168.8L406.2,167.4L408.4,166.8L410.7,166.4L412.8,166.8L414.7,166.7L415,167.2L414,168.5L415,170.8L414.3,171.6L412.7,171.6L411,170.7L410.1,170.4Z"/>
<path d="M403.1,175.1L402.9,173.3L403.6,171.7L405.2,170.9L407,172.7L408.5,172.7L408.6,170.8L410.1,170.4L411,170.7L412.7,171.6L414.3,171.6L415.3,172.1L415.7,173.3L416.6,174.8L414.7,175.7L413.6,176.1L411.6,174.9L410.5,174.8L410.2,174.3L408.4,174.5L405.1,174.3Z"/>
<path d="M406.9,179.3L406.6,178.7L406.7,178L405.8,177.6L403.8,177.2L403.1,175.1L405.1,174.3L408.4,174.5L410.2,174.3L410.5,174.8L411.6,174.9L413.6,176.1L414,177.2L412.6,178L412.3,179.4L410.4,180.3L408.5,180.3L407.9,179.6Z"/>
<path d="M392.7,187.3L391.7,185.7L391.8,184.9L391.2,183.5L390.4,182.6L390.9,182L390.3,180.7L391.6,180L394.5,178.8L396.8,178L398.8,178.4L399,179L400.9,179.1L403.3,179.3L406.9,179.3L407.9,179.6L408.5,180.3L408.7,181.4L409.4,182.4L409.6,183.4L408.5,183.9L409.2,185L409.4,186.2L410.7,188.3L410.6,189.1L409.7,189.3L408.1,191.4L408.8,192.6L408.3,192.4L406.3,191.5L404.9,191.8L403.9,191.6L402.8,192.1L401.7,191.2L400.9,191.6L400.7,191.4L399.7,190.2L398.2,190L397.9,189.2L396.5,188.9L396.3,189.6L395.1,189.1L395.2,188.4L393.7,188.1Z"/>
<path d="M397.1,193.7L396.2,193.2L395.2,193.3L393.6,192.6L392.9,192.7L391.8,193.8L390.3,193L389.1,191.9L388,191.3L387.7,190.2L387.3,189.5L388.7,188.9L389.4,188.3L390.8,187.8L391.3,187.3L391.8,187.6L392.7,187.3L393.7,188.1L395.2,188.4L395.1,189.1L396.3,189.6L396.5,188.9L397.9,189.2L398.2,190L399.7,190.2L400.7,191.4L400.1,191.4L399.9,191.9L399.4,192L399.3,192.5L399,192.7L398.9,192.9L398.3,193.2L397.4,193.1Z"/>
<path d="M400.7,191.4L400.9,191.6L401.7,191.2L402.8,192.1L403.9,191.6L404.9,191.8L406.3,191.5L408.3,192.4L407.8,193.1L407.5,194.1L407.1,194.4L404.9,193.6L404.2,193.8L403.8,194.4L402.9,194.7L402.7,194.5L401.7,194.9L400.9,195L400.8,195.5L399.1,195.8L398.4,195.5L397.3,194.9L397,194L397.1,193.7L397.4,193.1L398.3,193.2L398.9,192.9L399,192.7L399.3,192.5L399.4,192L399.9,191.9L400.1,191.4Z"/>
<path d="M396,198.1L396.5,196.5L396.1,195.9L397.2,195.9L397.3,194.9L398.4,195.5L399.1,195.8L400.8,195.5L400.9,195L401.7,194.9L402.7,194.5L402.9,194.7L403.8,194.4L404.2,193.8L404.9,193.6L407.1,194.4L407.5,194.1L408.8,194.8L409,195.5L407.8,196L407,197.8L406,199.5L404.4,200L403.1,199.9L401.6,200.5L400.8,200.9L399.1,200.4L397.5,199.3L396.8,199L396.3,198.2Z"/>
<path d="M391.1,199L392.8,199.2L393.8,198.6L395.6,198.6L396,198.1L396.3,198.2L396.8,199L395.2,199.7L395.1,200.7L394.4,201L394.5,201.7L393.6,201.7L392.9,201.2L392.6,201.7L391.1,201.6L391.6,201.4L391,200.3Z"/>
<path d="M401.6,200.5L402.2,201.5L402.9,202.3L402.2,203.2L401.2,202.7L399.8,202.7L398,202.3L397,202.3L396.6,202.9L395.8,202.3L395.4,203.3L396.6,204.5L397.1,205.3L398.1,206.3L398.9,206.9L399.8,207.9L401.8,208.9L401.6,209.4L399.5,208.4L398.2,207.5L396.3,206.7L394.4,204.8L394.8,204.6L393.7,203.5L393.6,202.7L392.3,202.3L391.7,203.4L391.1,202.5L391.1,201.6L392.6,201.7L392.9,201.2L393.6,201.7L394.5,201.7L394.4,201L395.1,200.7L395.2,199.7L396.8,199L397.5,199.3L399.1,200.4L400.8,200.9Z"/>
<path d="M402.2,203.2L402.9,203.2L402.5,204.3L403.6,205.3L403.4,206.5L402.9,206.7L402.6,206.9L401.9,207.5L401.8,208.9L399.8,207.9L398.9,206.9L398.1,206.3L397.1,205.3L396.6,204.5L395.4,203.3L395.8,202.3L396.6,202.9L397,202.3L398,202.3L399.8,202.7L401.2,202.7Z"/>
<path d="M405.9,201.8L407.2,202.4L407.5,203.5L408.8,204.2L409.4,203.6L409.9,204L409.5,204.4L409.9,204.8L409.5,205.4L409.7,206.4L410.9,207.5L410.2,208.3L409.9,209.1L410.2,209.4L409.8,209.8L408.9,209.8L408.2,210L408.1,209.8L408.3,209.5L408.5,208.8L408.2,208.8L407.7,208.4L407.4,208.2L407.1,207.8L406.7,207.7L406.3,207.3L406,207.5L405.8,208.3L405.3,208.5L405.4,208.3L404.6,207.7L403.9,207.5L403.5,207.1L402.9,206.7L403.4,206.5L403.6,205.3L402.5,204.3L402.9,203.2L402.2,203.2L402.9,202.3L402.2,201.5L401.6,200.5L403.1,199.9L404.4,200L405.6,201Z"/>
<path d="M406.5,210.5L406.5,211L406.2,211L406,210L405.4,209.8L404.9,209.1L405.3,208.5L405.8,208.3L406,207.5L406.3,207.3L406.7,207.7L407.1,207.8L407.4,208.2L407.7,208.4L408.2,208.8L408.5,208.8L408.3,209.5L408.1,209.8L408.2,210L407.7,210.1Z"/>
<path d="M404.4,209.3L404.2,208.8L403.4,210.1L403.6,210.9L403.2,210.7L402.5,209.9L401.6,209.4L401.8,208.9L401.9,207.5L402.6,206.9L402.9,206.7L403.5,207.1L403.9,207.5L404.6,207.7L405.4,208.3L405.3,208.5L404.9,209.1Z"/>
<path d="M406.2,211L406,211.9L406.4,213L407.3,213.6L407.4,214.3L406.7,214.6L406.7,215.5L405.8,216.8L405.4,216.6L405.3,216L404.1,215.1L403.8,213.9L403.8,212.1L404,211.3L403.6,210.9L403.4,210.1L404.2,208.8L404.4,209.3L404.9,209.1L405.4,209.8L406,210Z"/>
<path d="M406.2,211L406.5,211L406.5,210.5L407.7,210.1L408.2,210L408.9,209.8L409.8,209.8L411,210.6L411.3,212.3L410.9,212.4L410.6,212.8L409.5,212.8L408.7,213.4L407.3,213.6L406.4,213L406,211.9Z"/>
<path d="M414.2,227L415.5,227.8L417.2,227.7L418.8,227.9L418.8,228.3L420,228L419.8,228.8L416.6,229L416.6,228.6L413.9,228.1ZM419,211.7L418.5,213.3L418,213.6L416.7,213.6L415.6,213.3L413.1,214L414.7,215.5L413.7,215.9L412.5,215.9L411.2,214.5L410.9,215.1L411.5,216.7L412.7,217.9L411.9,218.4L413.2,219.6L414.4,220.4L414.5,221.9L412.5,221.2L413.2,222.5L411.9,222.8L412.9,225.1L411.5,225.1L409.6,224L408.6,221.9L408.1,220.2L407.2,219L406,217.5L405.8,216.8L406.7,215.5L406.7,214.6L407.4,214.3L407.3,213.6L408.7,213.4L409.5,212.8L410.6,212.8L410.9,212.4L411.3,212.3L412.9,212.4L414.5,211.7L416.1,212.6L418,212.3L417.8,211Z"/>
<path d="M409.9,204.8L410.6,205.9L411.4,205.7L413.1,206.1L416.1,206.2L417.1,205.6L419.5,205L421.1,205.9L422.3,206.2L421.4,207.3L420.9,209.1L421.7,210.6L419.9,210.2L417.8,211L418,212.3L416.1,212.6L414.5,211.7L412.9,212.4L411.3,212.3L411,210.6L409.8,209.8L410.2,209.4L409.9,209.1L410.2,208.3L410.9,207.5L409.7,206.4L409.5,205.4Z"/>
<path d="M409,195.5L409.8,195L411.1,195.2L412.4,195.2L413.4,195.9L414,195.5L415.5,195.2L415.9,194.6L416.8,194.6L417.4,194.9L418.2,195.6L419,196.7L420.4,198.2L420.6,199.4L420.5,200.4L421.1,201.6L422,202.1L422.9,201.7L423.9,202.1L424.1,202.8L423.2,203.3L422.5,203.1L422.3,206.2L421.1,205.9L419.5,205L417.1,205.6L416.1,206.2L413.1,206.1L411.4,205.7L410.6,205.9L409.9,204.8L409.5,204.4L409.9,204L409.4,203.6L408.8,204.2L407.5,203.5L407.2,202.4L405.9,201.8L405.6,201L404.4,200L406,199.5L407,197.8L407.8,196Z"/>
<path d="M416.8,194.6L417.2,194.3L418.5,194L420.1,194.8L421,194.9L422,195.6L422,196.4L422.8,196.9L423.2,197.9L424.1,198.6L424,199L424.4,199.2L423.9,199.4L422.7,199.3L422.4,199L422,199.2L422.2,199.6L421.8,200.5L421.5,201.3L421.1,201.6L420.5,200.4L420.6,199.4L420.4,198.2L419,196.7L418.2,195.6L417.4,194.9Z"/>
<path d="M425.5,184.8L426.3,184.9L426.7,184.4L427.3,184.5L429.3,184.3L430.8,185.7L430.4,186.2L430.8,187L432.4,187.1L433.3,188.2L433.4,188.7L436.1,189.6L437.5,189.2L439,190.3L440.2,190.3L443.3,191.1L443.5,191.9L443,193.2L443.7,194.6L443.5,195.5L441.6,195.6L440.7,196.4L440.9,197.5L439.3,197.7L438.1,198.5L436.2,198.6L434.6,199.6L435,201.2L436.1,201.8L438.2,201.7L437.9,202.6L435.7,203L433.2,204.5L431.9,204L432.2,202.8L429.8,202L430.1,201.5L431.9,200.7L431.2,200.1L428,199.4L427.7,198.5L425.8,198.8L425.3,200.2L423.9,202.1L422.9,201.7L422,202.1L421.1,201.6L421.5,201.3L421.8,200.5L422.2,199.6L422,199.2L422.4,199L422.7,199.3L423.9,199.4L424.4,199.2L424,199L424.1,198.6L423.2,197.9L422.8,196.9L422,196.4L422,195.6L421,194.9L420.1,194.8L418.5,194L417.2,194.3L416.8,194.6L415.9,194.6L415.5,195.2L414,195.5L413.4,195.9L412.4,195.2L411.1,195.2L409.8,195L409,195.5L408.8,194.8L407.5,194.1L407.8,193.1L408.3,192.4L408.8,192.6L408.1,191.4L409.7,189.3L410.6,189.1L410.7,188.3L409.4,186.2L410.4,186.1L411.3,185.4L412.9,185.3L414.9,185.5L417.2,186.1L418.8,186.2L419.6,186.5L420.2,186.1L420.8,186.7L422.6,186.6L423.4,186.8L423.3,185.5L423.9,185Z"/>
<path d="M408.5,180.3L410.4,180.3L412.3,179.4L412.6,178L414,177.2L413.6,176.1L414.7,175.7L416.6,174.8L418.7,175.4L419.1,176L420.1,175.7L422,176.3L422.5,177.4L422.2,178.1L423.7,179.7L424.6,180.2L424.6,180.6L426,181.1L426.7,181.7L426,182.3L424.4,182.2L424.1,182.4L424.7,183.2L425.5,184.8L423.9,185L423.3,185.5L423.4,186.8L422.6,186.6L420.8,186.7L420.2,186.1L419.6,186.5L418.8,186.2L417.2,186.1L414.9,185.5L412.9,185.3L411.3,185.4L410.4,186.1L409.4,186.2L409.2,185L408.5,183.9L409.6,183.4L409.4,182.4L408.7,181.4Z"/>
<path d="M434,228.4L434.1,228.4L434.4,227.8L436,227.8L437.8,227L436.5,228.2L436.7,228.6L436.8,228.9L434.7,229.9L433.6,229.6L433,228.5Z"/>
<path d="M441.3,233.3L440.7,233.3L440.5,233.8L439.8,233.8L440.4,231.7L441.2,229.8L441.3,229.7L442.2,229.9L442.7,230.9L441.7,231.9Z"/>
<path d="M441.2,234.8L440.9,235.6L440.1,235.2L439.8,237L440.4,237.3L439.9,237.6L439.9,238.3L440.9,238L441,239L440.3,243.2L438.4,238.7L439,237.8L438.8,237.7L439.3,236.4L439.5,234.5L439.8,233.8L440.5,233.8L440.7,233.3L441.3,233.3L441.4,234.4Z"/>
<path d="M440.9,235.6L441.1,237.2L440.9,238L439.9,238.3L439.9,237.6L440.4,237.3L439.8,237L440.1,235.2Z"/>
<path d="M440.9,235.6L441.2,234.8L443.8,235.8L447.8,233L449,236.2L448.7,236.6L444.4,237.9L446.9,240.5L446.2,241L445.9,241.8L444.3,242.2L443.8,243.1L442.9,243.9L440.4,243.5L440.3,243.2L441,239L440.9,238L441.1,237.2Z"/>
<path d="M469.1,241.9L469.7,243.1L469.6,243.7L470.6,245.6L469,245.7L468.3,244.5L466.3,244.2L467.6,241.7Z"/>
<path d="M670.7,426.7L672.2,427.6L673.6,427.2L675.5,426.7L676.7,426.9L674.8,430L673.5,430.9L671.9,432.9L671.6,432.2L669,434L668.6,433.9L667.4,433.8L667.6,431.6L668.4,429.9L668.7,427.6L669.5,426.4ZM691.3,356.1L691.8,358.2L693.4,357.2L694,358.3L694.9,359.3L694.4,360.5L694.5,362.7L694.6,364L695.1,364.4L695.3,366.6L694.8,367.9L695.1,369.7L697.3,371.1L698.6,372.3L699.9,373.5L699.5,374.1L700.4,375.7L700.6,378.6L701.7,378L702.3,379.1L703,378.7L702.7,381.5L703.8,383.1L704.6,384.1L705.8,386.2L705.7,388.3L705.3,389.8L704.6,391.4L704.9,393.6L703.9,395.9L703,397.1L701.5,399.5L700.9,401L699.6,402.8L697.6,405.2L695.3,406.5L693.5,408.5L692.2,409.8L690.4,412.1L688.9,413.4L687.3,415.3L686.1,417.1L685.7,417.9L684,418.8L681.5,418.9L678.9,420L677.4,421L675.4,422.1L674.3,421L673.3,420.5L674.4,419.2L672.9,419.6L670,421.5L668.5,420.8L667.5,420.4L666.4,420.2L664.7,419.5L664.2,417.9L664.8,415.9L665.5,413.5L664.4,413.5L662.5,413.2L663.8,411.9L664.2,410L662.3,411.8L660.1,412.3L661.9,410.8L662.9,409.3L664.4,408.1L665,406.1L662.3,408.4L660.5,409.2L658.7,411.3L657.5,410.2L658.2,408.9L657.7,407L656.9,406L657.6,405.4L655.4,403.8L653.9,403.7L652.3,402.5L648.2,402.7L644.7,404.3L642.2,404.5L640.1,404.3L637.3,405.7L635.2,406.3L634.2,407.6L633,408.7L631.1,408.8L629.6,409L627.9,408.5L626.2,408.8L624.7,408.9L622.8,410.3L622.2,410.2L620.8,410.9L619.5,411.8L617.9,411.7L616.5,411.7L614.8,410L613.8,409.5L614.4,408L615.6,407.7L616.2,407.1L616.5,406.1L617.4,404.3L617.7,402.8L617.4,400.1L617.5,398.6L618.1,397.1L617.7,395.4L617.8,394.7L617.1,393.6L617.4,391.6L616.6,389.5L616.6,388.4L617.3,389.5L617.1,387.1L618.1,387.9L618.5,388.9L618.8,387.5L618.1,385.5L618.1,384.7L617.7,383.9L618.3,382.4L618.9,381.7L619.4,380.4L619.5,378.9L620.7,377L620.5,379L621.8,377.2L623.8,376.3L625.1,375.2L627,374.3L628.1,374.1L628.6,374.4L630.6,373.4L632,373.1L632.4,372.5L633.1,372.3L634.3,372.4L636.8,371.6L638.3,370.4L639.1,369.1L640.7,367.7L641,366.7L641.3,365.3L643.2,363L643.8,365.3L644.9,364.8L644.3,363.5L645.2,362.3L646.1,362.8L646.7,360.9L648.1,359.6L648.8,358.5L650.1,358.1L650.2,357.4L651.2,357.7L651.3,357L652.4,356.6L653.5,356.3L655,357.5L656.1,359L657.5,359.1L658.9,359.3L658.6,357.9L660,355.8L661.2,355.1L660.9,354.4L662.1,352.9L663.6,352L664.7,352.3L666.7,351.8L666.8,350.5L665.2,349.6L666.5,349.3L667.9,349.9L669,351L670.9,351.7L671.6,351.4L672.9,352.2L674.3,351.4L675.2,351.7L675.8,351.2L676.6,352.5L675.8,353.9L674.8,354.9L674,355L674.2,356L673.3,357.3L672.3,358.6L672.3,359.4L673.9,360.8L675.5,361.6L676.5,362.5L677.9,364.1L678.5,364.1L679.6,364.8L679.8,365.6L681.8,366.5L683.5,365.6L684.2,364.2L684.9,363L685.4,361.6L686.5,359.5L686.4,358.2L686.6,357.5L686.6,356L687.2,354L687.7,353.5L687.5,352.6L688.2,351.2L688.8,349.8L689,349L689.9,348.1L690.4,349.3L690.4,351L690.9,351.3L690.9,352.4L691.5,353.7L691.5,355.2Z"/>
<path d="M729,427L728.6,428.1L730.9,427L730.7,428.1L729.9,429.2L728.2,430.4L725.3,432.3L723.4,433.3L723.1,434.6L721.5,434.6L718.9,435.6L717,437.3L713.7,439.9L711.1,441L709.5,441.7L707.6,441.7L707,440.8L704.9,440.7L705.3,439.7L708,437.8L712.6,435.3L714.4,434.8L716.6,433.8L719.5,432.5L721.8,431.1L724.2,429.2L725.5,428.5L726.9,427.1L729.3,425.9ZM740.8,414.6L740.6,417.4L741.8,415.6L742.3,416.3L741.4,418.3L742.5,419.1L743.8,419.3L745.7,418.3L746.6,418.6L744.5,420.9L742.8,422.5L741.2,422.4L740.1,423.2L739.5,424.3L738.8,424.8L737,426.2L734.6,428L732.1,429L732.3,428.3L731.7,427.9L734.5,425.8L734.9,424.4L733.3,423.3L734.1,422.4L736.2,421.5L737.9,419.5L738.9,417.8L739.2,416.1L739.5,415.6L739.2,414.5L738.8,412.2L739,410.4L739.9,410.2L740.3,411.6L741.6,412.3Z"/>
<path d="M737.8,375.3L739.2,376.9L740.1,378.1L739.1,378.7L738,378L736.7,376.8L735.6,375.4L734.6,373.6L734.5,372.7L735.4,372.7L736.5,373.6L737.3,374.5Z"/>
<path d="M768.8,365.5L769.4,366.2L768.7,367.6L767.2,368L766,367.6L766.1,366.5L767.2,365.6L768.2,365.9ZM771.4,364.1L769.8,364.6L769.8,363.7L771,363.1L771.8,363L773.3,362.2L773,363.4Z"/>
<path d="M648.9,188.2L654.5,192.7L650.9,191.9L652.4,195.5L656.3,198.2L657.5,199.9L654.9,198.4L654.9,200.4L653,198.2L651.5,195.8L649.2,193L648.2,191.1L645.6,187.7L642.4,185.3L639.6,181.8L640.4,180.7L638.6,179.5L639.1,179.2L641.1,180.8L643.9,183.2L646,185.7ZM406.9,179.3L403.3,179.3L400.9,179.1L401.2,178L403.8,177.2L405.8,177.6L406.7,178L406.6,178.7ZM61.3,150.1L61.6,150.7L63.6,149.1L67.8,149.4L68.2,151.5L65,152.5L61.9,152.7L58.7,155L57.4,155.5L55.8,155.4L55.6,154.6L54.2,153.9L55.2,152.9L53.9,152.6L51.5,152.9L51.7,152.1L53.4,151.2L50.5,151.7L49.7,152.8L47.3,153.8L60.8,144.8L62.3,146.5L63.5,148.7ZM658.3,140.7L656.7,140.9L655.2,140.2L655.8,139.3ZM69.8,140.6L67.4,140.7L69.9,139.3L70.2,139.2L71.6,139.2L72.9,139.8L72.3,140.1ZM591.5,135.7L589.1,135.7L585.5,135.5L585.1,135.4L585.4,134.5L587.1,134.3L590.5,135.1ZM596.7,131.8L596.2,132.6L593.4,132.4L589.2,131.6L588.5,131L591.9,131.3ZM586.3,130.9L587.5,132.4L581.7,132.3L579.9,132.8L574.8,131.5L573.4,130.1L574.8,129.7L579,129.8ZM457.4,141L456.5,141.2L451,140.9L450.1,139.9L446.9,139.4L446.1,138.2L447.5,137.8L446.8,136.6L449,134.8L447.4,134.6L450.1,132.8L449.1,131.8L451.9,130.8L456.1,129.5L460.9,129.1L462.9,128.4L465.6,128.1L467.3,128.9L466.8,129.5L462.1,130.5L458.1,131.5L454.6,133.4L453.4,135.4L452.1,137.5L453.4,139.2ZM517.8,125.5L510.4,126.2L509.9,123.7L510.8,123.5L512,123.6L517.2,124.7ZM435.5,121.4L433.7,121.6L432.5,121.8L432.5,122L431,122.3L429.2,121.9L429.7,121.4L426.5,121.3L429.1,121L431.2,121L431.8,121.4L432.3,121L433.5,120.8L435.8,121.1ZM508.8,124.4L505.9,124.6L501.2,124.1L497.9,123.4L495.2,122.1L492.8,121.7L495,120.6L497.5,120.2L501.4,121L507,122.7ZM524,128L525.7,129L526.5,128.5L530.9,128.6L535.6,129.5L537.9,130.3L538.9,131.3L537.9,131.9L535.2,133.1L534.8,133.7L537.1,134L540,134.5L541,134.1L543.3,135.4L543.4,134.9L545.5,134.6L551,134.9L552.6,135.9L559.7,136.2L557.7,134.6L561.6,135L564.1,135L568.1,136.1L570.6,137.4L570.7,138.3L574.8,140L578.5,140.8L577.2,138.6L581.1,139.6L583.1,139L587.1,139.6L587.5,139L590.6,139.3L586.8,137.4L587.6,136.4L604.1,137.8L607.3,139.1L613.9,140.7L619.9,140.3L623.7,140.7L626.4,141.6L628.5,143.2L631.4,143.8L633,143.3L635.9,143.3L639.7,143.7L642.5,143.5L648.3,145.4L649.3,144.7L645.8,143.3L645.1,142.3L651.3,142.9L654.6,142.8L661,143.9L664.9,144.8L678.4,153.8L677.6,154.8L675.1,154.7L678.4,155.9L682.1,157.8L683.8,158.4L685.4,159.4L685.8,160L681.7,159.5L679,161.3L677.8,161.6L677.1,163.2L676.3,164.7L677,165.8L672.3,164.1L669.8,166L667.9,165.1L667.4,166.1L664.5,165.8L665.8,167.4L666.2,169.7L667.4,170.7L670.2,171.2L673.9,174.8L672.2,174.9L673.6,176.9L675.5,178L673.5,179.3L675.7,182.1L673.3,182.7L675.2,185.2L674.5,187.6L672.2,185.8L667.9,182.2L661.3,176.7L658.7,173.3L658.7,171.8L657.6,170.7L659.9,170.2L659.8,167.1L660.1,164.7L661.1,162.8L658.4,159.4L656.5,159.6L657.8,161.6L656.3,164.2L651.4,161.3L647.6,162.1L647.6,166.1L650.8,167.5L647.3,168.2L644.7,168.4L643,166.7L639.7,166.3L638.7,167.5L632.6,167.1L627.2,167.8L625.8,172.5L623.7,178.3L627.1,178.6L629.4,180.2L631.7,180.7L631.9,179.5L634.2,179.6L639.4,182.4L641.3,184.5L641.9,187L644.1,190L646.3,194.1L645.8,197.7L646.4,199.5L645.6,202.5L644.7,205.5L644.3,207L642.5,208.5L641.2,208.5L639.1,207.3L637.4,209.2L637.6,210L637.1,209.6L636.3,208.3L637.3,208.2L635.7,205.2L633.8,202.9L635,202L637.8,202.5L637.6,200L636.4,197.2L636.5,196.3L636,194L633.2,194.7L632.1,195.7L629,195.7L626.6,193.3L622.9,191.5L618.9,190.7L616.4,188.3L614.5,186.7L613,185.6L609.8,183.1L607.4,182.2L603.9,181.5L601.4,181.5L599.3,182L598.6,183.2L600.1,183.8L601.1,185.2L600.6,186L600.7,188.7L601.5,189.8L599.7,191.4L596.7,190.4L594.4,190.6L592.8,189.8L591.4,189.5L589.6,191.3L587.2,191.7L585.8,192.3L583,191.9L581.1,191.9L579.1,190.6L576.5,189.4L574.3,189.1L571.9,189.4L570.3,189.9L566.9,188.8L565.4,186.9L562.6,186.3L560.7,186L557.8,185L557.3,187.6L558.9,189.1L558,190.8L554.7,190.2L552.7,190.1L550.7,188.9L548.6,188.9L546.5,188.1L544.1,189.3L541.3,191.5L539.4,191.9L538.7,192.1L536.9,190.6L534.5,190.9L533.1,189.8L531.5,189.3L529.8,187.9L528.5,187.4L526,188.1L522.6,186.6L522.1,187.9L514.7,181.6L511.3,179.7L511.6,178.9L507.9,181.2L506.1,181.4L505.6,180L502.7,179.2L501,179.8L499.2,177.2L495.5,176.7L494.2,177.7L489.8,178.6L489.1,179.2L482.2,180.1L481.6,180.9L483.7,182.6L482,183.3L482.7,184L481.2,185.2L485,186.9L485,188.1L482.1,188L481.8,188.7L478.8,187.4L475.7,187.5L473.9,188.6L471.2,187.5L466.3,185.8L463.3,185.9L459.9,188.6L460.2,190.4L457.7,189L456.9,191.8L457.6,192.3L456.9,194.2L459,195.9L460.5,195.8L462.3,197.6L462.4,198.9L463.5,199.3L462.9,200.8L461,201.2L459.6,203.9L462,206.3L462.2,208L465.2,211.1L464.1,212.1L463.9,212.8L462.9,212.6L461.2,211L460.5,211L459.1,210.4L458.2,209.3L456.2,208.8L455,209.2L454.5,208.7L451.4,207.4L448.3,207L446.4,206.6L446.2,206.9L443.2,204.7L440.6,203.7L438.6,202.2L440,201.8L441.3,199.7L440,198.7L442.8,197.6L442.6,197.1L440.9,197.5L440.7,196.4L441.6,195.6L443.5,195.5L443.7,194.6L443,193.2L443.5,191.9L443.3,191.1L440.2,190.3L439,190.3L437.5,189.2L436.1,189.6L433.4,188.7L433.3,188.2L432.4,187.1L430.8,187L430.4,186.2L430.8,185.7L429.3,184.3L427.3,184.5L426.7,184.4L426.3,184.9L425.5,184.8L424.7,183.2L424.1,182.4L424.4,182.2L426,182.3L426.7,181.7L426,181.1L424.6,180.6L424.6,180.2L423.7,179.7L422.2,178.1L422.5,177.4L422,176.3L420.1,175.7L419.1,176L418.7,175.4L416.6,174.8L415.7,173.3L415.3,172.1L414.3,171.6L415,170.8L414,168.5L415,167.2L414.7,166.7L416.5,165.4L414.3,164.3L417.6,161.3L418.9,159.9L419.3,158.7L416.3,157.1L416.7,155.6L414.7,153.9L415.4,151.9L412.7,149.3L413.9,147.6L410.9,146.1L410.8,144.6L412.1,144.4L414.7,143.5L416.2,142.8L419.3,144.1L424,144.6L431.3,147.1L432.9,148.2L433.6,149.7L432,150.9L429.4,151.5L421.2,149.7L420,150L423.3,151.7L423.7,152.8L424.5,155.1L426.9,155.8L428.5,156.4L428.4,155.3L427,154.3L427.9,153.4L432.6,154.9L433.9,154.3L432.2,152.6L435.5,150.4L437.1,150.5L439,151.3L439.4,149.7L437.5,148.4L437.9,147.1L436.1,145.7L441.1,146.4L442.6,147.6L440.5,147.9L441,149.2L442.6,149.9L445.1,149.5L445,148L448.1,147L453.1,145.1L454.4,145.2L453.4,146.5L455.6,146.7L456.4,146L459.6,145.9L461.6,145L464.2,146.3L465.4,144.9L462.9,143.6L463.4,142.9L468.7,143.5L471.4,144.2L479,146.8L479.4,145.6L477,144.4L476.7,144L474.5,143.7L474.4,142.7L472.5,141L472.1,140.3L473.8,138.4L473.6,136.5L474.5,136L479.1,136.6L480.3,137.8L479.9,139.5L481.4,140.2L483,141.7L484.5,144.7L487.3,146L487.5,147.5L486,150.7L488.2,151.1L488.4,150.3L489.9,149.7L489.7,148.6L490.5,147.5L488.7,146.2L488.6,144.8L486.6,144.6L485.4,143.4L485.3,141.2L481.9,139.4L483.8,138L482.3,136.5L483.1,136.4L484.8,137.6L485.7,139.7L487.7,140.1L485.8,138.5L487.9,137.7L491.2,137.6L495.1,138.8L492.3,137L490.3,134.8L492.7,134.4L496.6,134.5L499.7,134.2L497.5,133.1L498,131.8L499.7,131.7L501.7,130.7L505.5,130.4L505.4,129.9L509.2,129.7L511,130.1L513.1,129.1L516,129.1L515.4,128.3L515.7,127.4L518.3,126.6L521.6,127.2L520.2,127.7Z"/>
<path d="M228.1,456.9L230.5,462.4L232.6,462.4L233.8,462.5L233.6,463.5L232.2,464.3L231.3,464.2L230,464L228.3,463.3L226.1,462.9L223.1,461.5L220.5,460.2L216.5,457.4L218.3,457.9L221.8,459.6L224.8,460.5L225.3,459.3L225.2,457.6L226.6,456.6ZM208.7,376.3L209.9,379.9L211.5,379.6L211.9,380.2L211.4,382.9L209.1,384.2L209.8,388.6L209.4,389.4L210.2,390.5L208.9,392.1L207.9,394.5L207.5,396.9L208.2,399.4L207.3,402.1L209.3,406.6L210,407.1L210.5,409.5L209.9,412L210.5,414.2L209.2,415.9L209.9,418.3L211.2,420.9L210.2,421.8L210.3,424.1L210.6,426.8L212,429.9L211.3,430.5L212.8,433.4L214,434.4L213.7,435.5L214.9,436L215.4,437L214.7,437.5L215.4,439L215.9,442.4L215.6,444.5L216.3,445.8L216.3,447.4L215.2,448.6L216.4,451.2L217.5,452.1L218.8,452L219.5,453.9L221,455.3L225.9,455.7L227.9,456.1L226.1,456L225.4,456.7L224,457.6L224.7,459.9L224,459.9L221.4,459.1L218.4,457.4L215.3,456L213.9,454.4L213.8,452.9L212.1,451.2L210.1,446.9L210,444.5L211.4,442.5L208,441.8L209.1,439.5L208.3,435.2L210.9,436.1L210.2,430.8L208.6,430.1L209,433.3L207.6,433L207,429.3L206.2,424.5L206.6,422.7L205.3,420.2L204.3,417.2L205.2,417.1L205.4,412.9L205.9,408.8L205.9,404.9L204.6,401L204.8,398.8L204,395.6L204.7,392.4L204.3,387.3L204.4,381.9L204.4,376.1L203.8,371.8L202.9,368.1L204,367.5L204.5,366.1L205.8,367.9L206.3,369.8L207.6,370.9L207.1,373.4Z"/>
<path d="M241.7,313.7L240.8,314.7L239.7,314.8L239.4,314.1L238.8,314L238.1,314.7L237.1,314.2L237.7,313L237.9,311.9L238.4,310.7L237.5,309.2L237.3,307.4L238.6,305.2L239.4,305.5L241,306.1L243.4,308.3L243.8,309.3L242.4,311.7Z"/>
<path d="M235.3,399.1L236.7,398.8L239.2,400.9L240.1,400.8L242.6,402.5L244.5,403.9L246.1,405.7L245.3,406.9L246.2,408.4L245.5,410L243.4,411.5L241.6,411L240.5,411.2L238.3,410.1L236.8,410.2L235.2,408.8L235.1,407.1L235.5,406.5L235,403.9L235.1,401.2Z"/>
<path d="M221.3,292.1L222.6,291.8L223.1,291.9L222.9,293.8L221,294.1L220.6,293.8L221.3,293.1Z"/>
<path d="M466.5,353.6L466.5,353.3L466.3,353.2L466.1,353.3L466,353.6L466,353.9L466.2,354.1L466.4,353.9Z"/>
<path d="M491,332.4L490.9,332.1L490.7,332L490.5,332.1L490.4,332.4L490.5,332.7L490.7,332.8L490.9,332.7Z"/>
<path d="M493.7,373.2L493.6,372.7L493.3,372.5L493,372.7L492.8,373.2L492.9,373.7L493.2,373.9L493.5,373.7Z"/>
<path d="M489.1,375.4L489,374.9L488.5,374.7L488,374.9L487.8,375.4L487.9,375.8L488.4,376L488.9,375.8Z"/>
<path d="M222.4,275.6L222.4,275.4L222.2,275.3L221.9,275.4L221.8,275.6L221.9,275.8L222.1,275.9L222.3,275.8Z"/>
<path d="M223.2,277.8L223,277.5L222.6,277.3L222.1,277.5L221.9,277.8L222,278.2L222.5,278.4L222.9,278.2Z"/>
<path d="M223,279.9L223,279.6L222.9,279.4L222.7,279.6L222.6,279.9L222.6,280.3L222.8,280.5L222.9,280.3Z"/>
<path d="M223.8,281.9L223.7,281.6L223.5,281.4L223.3,281.6L223.1,281.9L223.2,282.3L223.4,282.5L223.7,282.3Z"/>
<path d="M223.6,283.9L223.6,283.6L223.4,283.5L223.3,283.6L223.2,283.9L223.2,284.2L223.4,284.3L223.5,284.2Z"/>
<path d="M222.9,285.6L222.9,285.4L222.8,285.3L222.6,285.4L222.6,285.6L222.6,285.8L222.7,285.9L222.9,285.8Z"/>
<path d="M226.8,285.8L226.7,285.5L226.6,285.4L226.4,285.5L226.3,285.8L226.4,286.1L226.5,286.2L226.7,286.1Z"/>
<path d="M221.7,288.5L221.7,288.3L221.5,288.2L221.3,288.3L221.3,288.5L221.3,288.8L221.5,288.9L221.6,288.8Z"/>
<path d="M216.1,272.4L215.9,272.2L215.6,272.1L215.3,272.2L215.1,272.4L215.3,272.5L215.6,272.6L215.9,272.5Z"/>
<path d="M220.3,275L220.2,274.8L220,274.8L219.9,274.8L219.8,275L219.9,275.1L220,275.2L220.2,275.1Z"/>
</g>
<g class="dt">
<path fill="#fef0d9" d="M389.9,258.9L382.2,263.9L375.7,269L372.5,270.2L370,270.4L370,268.8L368.9,268.3L367.5,267.6L367,266.4L359.4,260.7L351.8,255L343.5,248.7L343.5,248.1L343.5,248L343.6,244.9L347.2,243L349.4,242.6L351.2,241.9L352.1,240.5L354.7,239.5L354.8,237.6L356.1,237.3L357.1,236.4L360,235.9L360.4,234.9L359.8,234.4L359.1,231.6L358.9,230L358.1,228.4L360.2,226.9L362.6,226.5L363.9,225.4L366,224.6L369.7,224.1L373.2,223.9L374.3,224.3L376.3,223.3L378.6,223.3L379.5,223.9L381,223.7L380.6,225.1L381,227.5L380.6,229.7L379.3,231.1L379.5,233.1L381.3,234.7L381.4,235.3L382.8,236.4L383.8,241L384.6,243.4L384.8,244.6L384.4,246.7L384.6,247.9L384.4,249.3L384.6,251L383.7,252.1L385.1,254L385.2,255.1L386,256.5L387.1,256.1L388.9,257.3Z"/>
<path fill="#fef0d9" d="M421.1,368.6L421.6,369.1L422.2,370.6L424.7,373.5L425.6,373.7L425.6,374.7L426.2,376.3L427.9,376.7L429.3,377.9L426,379.8L423.9,381.8L423.1,383.5L422.4,384.5L421.1,384.7L420.7,385.9L420.4,386.8L418.9,387.4L417.1,387.2L416.1,386.5L415.1,386.2L414,386.8L413.4,388L412.3,388.8L411.2,390L409.5,390.3L409.1,389.3L409.4,387.8L408.1,385.3L407.5,384.9L407.8,377.3L410,377.2L410.4,367.9L412.1,367.8L415.6,366.9L416.4,367.9L417.9,366.9L418.6,366.9L419.9,366.3L420.3,366.5Z"/>
<path fill="#fef0d9" d="M440.3,243.2L439.8,244.2L439.5,246.2L439,247.5L438.5,248L437.7,247.1L436.6,246L434.7,242.2L434.5,242.5L435.6,245.2L437.2,247.9L439.2,251.9L440.1,253.3L440.9,254.8L443.2,257.7L442.7,258.2L442.9,259.9L445.7,262.2L446.1,262.7L437.1,262.7L428.4,262.7L419.3,262.7L418.9,253.1L418.3,243.8L417.5,241.7L418,240.1L417.6,239L418.3,237.8L421.2,237.7L423.4,238.4L425.6,239.2L426.7,239.6L428.3,238.8L429.2,238L431.1,237.8L432.7,238.1L433.4,239.4L433.9,238.6L435.7,239.2L437.4,239.3L438.4,238.7Z"/>
<path fill="#fef0d9" d="M351.6,226.8L352.9,227.9L354.9,227.7L357.2,228.3L358.1,228.4L358.9,230L359.1,231.6L359.8,234.4L360.4,234.9L360,235.9L357.1,236.4L356.1,237.3L354.8,237.6L354.7,239.5L352.1,240.5L351.2,241.9L349.4,242.6L347.2,243L343.6,244.9L343.5,248L333.5,247.9L334.1,247.2L336.8,246.7L338.6,244.9L339.8,244.2L341.7,242L341.2,238.8L342.1,236.5L342.4,235.2L343.9,233.4L346.1,232.2L347.8,231.1L349.3,228.4L350,226.8Z"/>
<path fill="#fef0d9" d="M399.2,394.8L397.6,392.9L396.9,388.4L396.5,385.1L396,382.5L395.3,382.5L395.3,379.4L395,377.9L394.2,376.9L393.1,374.7L391.9,371.6L391.5,369.9L389.7,367.4L389.6,365.4L390.7,364.9L392,364.4L393.5,364.5L394.8,365.7L395.2,365.5L404.4,365.4L406,366.7L411.5,367L415.7,366L417.6,365.4L419,365.5L419.9,366.1L419.9,366.3L418.6,366.9L417.9,366.9L416.4,367.9L415.6,366.9L412.1,367.8L410.4,367.9L410,377.2L407.8,377.3L407.5,384.9L407.1,394.5L405.1,395.9L403.9,396.1L402.5,395.6L401.5,395.4L401.2,394.3L400.3,393.5Z"/>
<path fill="#fef0d9" d="M432.8,396.6L432.4,397L431.3,398.3L430.6,399.7L429.2,401.5L426.4,404.2L424.8,405.8L423,407L420.6,408L419.5,408.1L419.2,408.9L417.9,408.5L416.7,409L414.4,408.5L413.1,408.8L412.2,408.6L409.8,409.7L408,410.1L406.5,411.1L405.5,411.1L404.7,410.2L403.9,410.2L403.1,409L403,409.4L402.7,408.7L402.8,407.1L402.2,405.4L402.9,404.9L403,402.9L401.7,400.4L400.7,398.2L399.2,394.8L400.3,393.5L401.2,394.3L401.5,395.4L402.5,395.6L403.9,396.1L405.1,395.9L407.1,394.5L407.5,384.9L408.1,385.3L409.4,387.8L409.1,389.3L409.5,390.3L411.2,390L412.3,388.8L413.4,388L414,386.8L415.1,386.2L416.1,386.5L417.1,387.2L418.9,387.4L420.4,386.8L420.7,385.9L421.1,384.7L422.4,384.5L423.1,383.5L423.9,381.8L426,379.8L429.3,377.9L430.2,377.9L431.3,378.4L432.1,378.1L433.3,378.3L434.1,382L434.6,383.8L434,386.8L434.2,387.7L433.1,387.2L432.4,387.4L432.2,388.2L431.5,389.1L431.4,390L432.7,391.5L434,391.2L434.5,390L436.2,390L435.5,391.9L435.1,394.1L434.4,395.3Z"/>
<path fill="#fef0d9" d="M460.4,277.5L460,276.4L459.3,275.6L459,274.6L457.8,273.6L456.5,271.4L455.7,269.3L454,267.5L453,267.1L451.3,264.6L451,262.8L451,261.2L449.5,258.3L448.4,257.3L447.1,256.8L446.3,255.3L446.4,254.7L445.6,253.3L444.9,252.8L443.9,250.8L442.4,248.7L441.1,246.9L440,246.9L440.2,245.5L440.2,244.6L440.4,243.5L442.9,243.9L443.8,243.1L444.3,242.2L445.9,241.8L446.2,241L446.9,240.5L444.4,237.9L448.7,236.6L449,236.2L451.8,236.9L455.3,238.7L462.1,244L466.3,244.2L468.3,244.5L469,245.7L470.6,245.6L471.7,247.9L472.8,248.5L473.3,249.4L475,250.5L475.2,251.6L475.1,252.4L475.5,253.3L476.2,254.1L476.6,254.9L477,255.5L477.7,256.1L478.3,255.9L478.8,256.9L479,257.5L480.1,260.1L486.9,261.4L487.4,260.9L488.5,262.7L487.5,268L480.9,270.6L474.4,271.6L472.4,272.8L470.9,275.5L469.9,275.9L469.3,275.1L468.4,275.2L466.2,274.9L465.7,274.7L463.1,274.7L462.5,275L461.5,274.3L461,275.6L461.3,276.7Z"/>
<path fill="#fef0d9" d="M496,265.1L495.3,266.8L494.2,266.7L493.8,267.3L493.6,268.7L494,270.4L493.8,270.7L492.8,270.7L491.4,271.7L491.3,273L490.8,273.5L489.4,273.5L488.6,274.2L488.7,275.2L487.6,275.9L486.4,275.7L484.9,276.6L483.9,276.7L483,274.9L480.9,270.6L487.5,268L488.5,262.7L487.4,260.9L487.3,259.8L487.9,258.8L487.8,257.7L488.7,257.2L488.3,256.8L488.3,255.1L489.5,255.1L490.7,256.9L492,257.8L493.7,258.2L495.1,258.7L496.2,260.2L496.9,261L497.8,261.4L497.8,261.9L497.1,263.5L496.8,264.2ZM489.2,252.6L488.9,253L488.4,252.2L489,251.3L489.3,251.5Z"/>
<path fill="#fef0d9" d="M478.8,256.9L479.2,256.8L479.4,257.5L481.1,257.1L482.9,257.1L484.3,257.2L485.7,255.4L487.2,253.8L488.4,252.2L488.9,253L489.5,255.1L488.3,255.1L488.3,256.8L488.7,257.2L487.8,257.7L487.9,258.8L487.3,259.8L487.4,260.9L486.9,261.4L480.1,260.1L479,257.5Z"/>
<path fill="#fef0d9" d="M479,223.1L480.8,222.6L482,221.1L483.5,221.1L484.3,220.7L485.9,220.9L488.6,222.2L490.4,222.5L493.3,224.8L495,224.9L495.6,227.1L495.4,230.3L495.2,232.2L496.2,232.6L495.5,234.1L496.7,236.1L497.1,237.8L498.9,238.2L499.4,239.9L497.7,242.3L499.1,243.7L500.2,245.2L502.5,246.4L502.9,248.7L504,249.1L504.4,250.3L501.3,251.7L500.9,254.7L496.6,253.9L494,253.3L491.5,253L490.1,249.8L489,249.3L487.3,249.8L485.2,251L482.4,250.2L479.9,248.2L477.7,247.4L475.9,244.9L473.8,241.5L472.7,241.9L471.1,241L470.4,242L469,240.7L468.8,239.3L468.1,239.3L468.2,237.4L466.8,235.4L463.9,234L462,231.5L462.2,229.5L463.2,228.5L462.8,227L461.2,226.2L459.3,223.1L457.8,221L458.1,220.2L456.9,217.3L458.2,216.5L458.7,217.5L460,218.7L461.6,219L462.3,219L464.5,217.1L465.2,216.9L466,217.6L465.5,218.9L467.1,220.3L467.6,220.1L468.7,222.1L470.8,222.6L472.6,223.9L475.7,224.4L478.9,223.7Z"/>
<path fill="#fef0d9" d="M511.9,209.9L510.9,210.4L508.6,212.2L508.3,214L507.5,214.1L506.5,212.8L503.8,212.7L502.8,210.6L501.7,210.6L501.1,208L498,206.1L494.5,206.3L492.2,206.7L489.5,204.4L487.6,203.4L483.8,201.6L483.4,201.4L478.5,202.9L481,212.4L480,212.5L478,210.5L476.4,209.8L474.2,210.3L473.4,211.2L473.2,210.5L473.4,209.4L472.8,208.6L470.2,207.7L468.7,205.4L467.4,204.7L467.1,203.9L469.2,204.1L468.8,202.2L470.4,201.8L472.3,202.2L472.1,199.7L471.3,198.1L469.3,198.2L467.4,197.6L465.3,198.7L463.5,199.3L462.4,198.9L462.3,197.6L460.5,195.8L459,195.9L456.9,194.2L457.6,192.3L456.9,191.8L457.7,189L460.2,190.4L459.9,188.6L463.3,185.9L466.3,185.8L471.2,187.5L473.9,188.6L475.7,187.5L478.8,187.4L481.8,188.7L482.1,188L485,188.1L485,186.9L481.2,185.2L482.7,184L482,183.3L483.7,182.6L481.6,180.9L482.2,180.1L489.1,179.2L489.8,178.6L494.2,177.7L495.5,176.7L499.2,177.2L501,179.8L502.7,179.2L505.6,180L506.1,181.4L507.9,181.2L511.6,178.9L511.3,179.7L514.7,181.6L522.1,187.9L522.6,186.6L526,188.1L528.5,187.4L529.8,187.9L531.5,189.3L533.1,189.8L534.5,190.9L536.9,190.6L538.7,192.1L538,193.8L536.4,194L537.4,196.6L536.8,197.7L532.4,196.9L532.8,201.5L532,202.1L528.3,203.1L531.8,207.5L530.7,208.2L531.4,209.7L529.9,209.3L528.5,208.4L525.3,208.1L521.8,208L521.2,208.3L517.8,207.2L516.8,207.8L517,209.3L513.3,208.4L512,208.8Z"/>
<path fill="#fef0d9" d="M506.1,222.6L505.7,221L502.6,219.9L500,218.7L498.3,217.4L495.4,215.6L493.7,213L492.8,212.5L490.6,212.6L489.6,212.1L488.9,210L485.7,208.7L484.3,210.2L482.7,211L483.4,212.4L481,212.4L478.5,202.9L483.4,201.4L483.8,201.6L487.6,203.4L489.5,204.4L492.2,206.7L494.5,206.3L498,206.1L501.1,208L501.7,210.6L502.8,210.6L503.8,212.7L506.5,212.8L507.5,214.1L508.3,214L508.6,212.2L510.9,210.4L511.9,209.9L512.6,210.2L511.4,211.8L513.2,212.8L514.5,212.2L517.5,213.5L515.3,215.4L513.6,215.1L512.8,215.2L512.3,214.5L512.3,213.3L509.7,213.9L509.5,215.6L508.9,217L507.1,216.9L506.9,218L508.6,218.6L509.6,220.6L509,223.2L507.3,222.7Z"/>
<path fill="#fef0d9" d="M495.6,227.1L495,224.9L493.3,224.8L490.4,222.5L488.6,222.2L485.9,220.9L484.3,220.7L483.5,221.1L482,221.1L480.8,222.6L479,223.1L478.3,221.2L478,218.5L476.1,217.6L476.3,215.8L474.9,215.7L474.8,213.5L477,214.1L478.7,213.3L476.7,211.8L475.8,210.3L474.3,210.9L474.5,212.8L473.4,211.2L474.2,210.3L476.4,209.8L478,210.5L480,212.5L481,212.4L483.4,212.4L482.7,211L484.3,210.2L485.7,208.7L488.9,210L489.6,212.1L490.6,212.6L492.8,212.5L493.7,213L495.4,215.6L498.3,217.4L500,218.7L502.6,219.9L505.7,221L506.1,222.6L505.4,222.6L504.2,221.9L504.1,222.8L502.4,223.3L502.5,225.4L501.4,226.2L499.8,226.6L499.6,227.7L498,228.1Z"/>
<path fill="#fef0d9" d="M511.9,209.9L512,208.8L513.3,208.4L517,209.3L516.8,207.8L517.8,207.2L521.2,208.3L521.8,208L525.3,208.1L528.5,208.4L529.9,209.3L531.4,209.7L531.3,210.3L528.5,211.7L528.1,212.7L525.5,213L525.2,214.7L522.8,214.3L521.5,214.8L519.9,216.1L520.4,216.7L519.9,217.3L516,217.6L513.1,216.8L510.9,217L510.7,215.5L513.1,215.9L513.6,215.1L515.3,215.4L517.5,213.5L514.5,212.2L513.2,212.8L511.4,211.8L512.6,210.2Z"/>
<path fill="#fef0d9" d="M513.6,215.1L513.1,215.9L510.7,215.5L510.9,217L513.1,216.8L516,217.6L519.9,217.3L521.2,219.7L521.8,219.4L523.3,220L523.5,221L524.2,222.5L522,222.5L520.5,222.3L519.5,223.5L518.6,223.7L518,224.3L516.9,223.4L516.5,221.2L515.8,221.1L515.8,220.3L514.5,219.7L513.8,220.6L513.9,221.7L513.7,222L512.4,222L512,223.2L511.1,222.7L509.8,223.5L509,223.2L509.6,220.6L508.6,218.6L506.9,218L507.1,216.9L508.9,217L509.5,215.6L509.7,213.9L512.3,213.3L512.3,214.5L512.8,215.2Z"/>
<path fill="#fef0d9" d="M531.8,227.5L534.9,230.6L535.3,232.7L536.5,234L536.7,235.4L535.1,235L536.4,237.9L538.9,239.5L542.4,241.4L541.2,242.6L540.9,245L543.2,246L545.6,247.3L548.8,248.7L551.9,249.1L553.4,250.4L555.2,250.7L558,251.3L559.9,251.2L559.9,250.2L559.3,248.5L559.2,247.4L560.5,246.8L561.1,248.9L561.3,249.4L563.5,250.4L564.8,250L566.7,250.2L568.5,250.1L568.4,248.5L567.3,247.7L569,247.3L570.6,245.4L572.8,243.7L574.8,244.4L576.1,243.3L577.5,244.9L577,246L579.5,246.4L579.9,247.4L579.3,247.9L579.8,249.5L578.1,249L575.6,250.8L576,252.3L575.1,254.5L575.2,255.8L574.6,257.9L572.7,257.3L573.1,260L572.7,260.9L573.1,262L572.1,262.6L570.3,258.5L569.7,258.5L569.6,260.2L568.1,258.8L568.6,257.3L569.6,257.2L570.2,255L568.8,254.5L566.8,254.6L564.6,254.2L564.1,252.4L563,252.3L561,251.1L560.5,252.9L562.4,254.3L561.1,255.3L560.8,256.2L562.3,256.9L562.1,258.5L563.2,260.4L563.9,262.6L563.7,263.6L562.1,263.5L559.4,264.1L559.8,266L558.8,267.6L555.8,269.3L553.6,272.4L552.1,274L550,275.8L550.1,277L549.1,277.6L547.1,278.5L546.1,278.7L545.6,280.7L546.4,284.1L546.7,286.2L545.9,288.7L546.2,293.2L545,293.3L544.1,295.3L544.8,296.1L542.8,296.9L542.1,298.6L541.2,299.4L538.9,297L537.6,293.3L536.6,290.7L535.7,289.4L534.3,286.9L533.5,283.7L533,282L530.6,278.4L529.1,273.4L528.1,270L527.7,266.9L527,264.4L523.9,266L522.3,265.7L519,262.5L520,261.6L519.2,260.5L516.3,258.3L517.6,256.6L522.5,256.6L521.8,254.3L520.4,253L519.8,251L518.2,249.8L520.2,247.1L522.8,247.3L524.7,244.6L525.5,241.9L527.1,239.3L526.7,237.4L528.2,235.9L526.2,234.6L525,232.9L523.7,230.6L524.5,229.4L527.9,230.1L530.3,229.7Z"/>
<path fill="#fef0d9" d="M559.2,247.4L559.3,248.5L559.9,250.2L559.9,251.2L558,251.3L555.2,250.7L553.4,250.4L551.9,249.1L548.8,248.7L545.6,247.3L543.2,246L540.9,245L541.2,242.6L542.4,241.4L543.2,240.7L545.1,241.6L547.7,243.3L549.1,243.6L550.1,244.9L551.9,245.4L554,246.5L556.6,247.1Z"/>
<path fill="#fef0d9" d="M567.3,247.7L568.4,248.5L568.5,250.1L566.7,250.2L564.8,250L563.5,250.4L561.3,249.4L561.1,248.9L562.2,247L563.2,246.3L565,246.9L566.1,247Z"/>
<path fill="#fef0d9" d="M572.1,262.6L572.3,264.5L571.5,264.1L571.9,266.2L571.1,264.9L570.8,263.5L570.2,262.3L569,260.7L566.9,260.6L567.3,261.7L566.8,263.2L565.7,262.6L565.5,263.1L564.8,262.8L563.9,262.6L563.2,260.4L562.1,258.5L562.3,256.9L560.8,256.2L561.1,255.3L562.4,254.3L560.5,252.9L561,251.1L563,252.3L564.1,252.4L564.6,254.2L566.8,254.6L568.8,254.5L570.2,255L569.6,257.2L568.6,257.3L568.1,258.8L569.6,260.2L569.7,258.5L570.3,258.5Z"/>
<path fill="#fef0d9" d="M551,300.6L550.8,303.3L549.8,304L547.9,304.6L546.7,302.5L546.1,298.8L546.9,294.5L548.6,296L549.8,297.8Z"/>
<path fill="#fef0d9" d="M597.9,288.4L595.8,287.2L593.8,287.2L593.9,285.2L591.9,285.2L592,288.1L591.1,291.9L590.6,294.2L590.8,296.1L592.3,296.2L593.4,298.5L594,300.8L595.3,302.3L596.8,302.6L598,304L597.3,305L595.8,305.3L595.6,304L593.6,302.9L593.3,303.3L592.3,302.3L591.8,301L590.5,299.5L589.3,298.3L589.1,299.8L588.5,298.4L588.7,296.8L589.2,294.3L590.1,291.6L591.1,289.1L590,286.8L589.9,285.5L589.5,284.1L587.8,282L587.1,280.7L587.8,280.2L588.4,277.9L587.2,276.2L585.5,274.3L584.1,272L585,271.6L585.6,268.7L587.2,268.6L588.3,267.5L589.5,266.9L590.6,267.7L591,269.3L592.6,269.4L592.4,272.1L592.8,274.5L595,272.9L595.7,273.4L597,273.3L597.4,272.4L599.1,272.6L601.2,274.7L601.7,277.3L603.8,279.5L604,281.7L603.4,282.9L601.2,282.5L598.3,283L597.1,285.2Z"/>
<path fill="#fef0d9" d="M603.4,282.9L604,281.7L603.8,279.5L601.7,277.3L601.2,274.7L599.1,272.6L597.4,272.4L597,273.3L595.7,273.4L595,272.9L592.8,274.5L592.4,272.1L592.6,269.4L591,269.3L590.6,267.7L589.5,266.9L589.9,265.9L591.5,264.2L591.8,264.8L593.1,264.9L592.3,261.9L593.4,261.5L595,263.6L596.4,266L599.2,266L600.4,268.3L599.1,268.9L598.6,269.9L601.5,271.4L603.9,274.5L605.6,276.8L607.6,278.7L608.5,280.5L608.4,283.1L606.2,282.1L605.4,283.9Z"/>
<path fill="#fef0d9" d="M600.4,292.4L599.3,291.1L597.9,288.4L597.1,285.2L598.3,283L601.2,282.5L603.4,282.9L605.4,283.9L606.2,282.1L608.4,283.1L609.1,284.9L609.1,288L605.5,290L606.6,291.6L604.2,291.8L602.3,292.8Z"/>
<path fill="#fef0d9" d="M607,263.9L604.4,266.1L602.9,268.6L602.7,270.4L604.8,273.2L607.5,276.6L609.7,278.2L611.4,280.3L613.1,285.1L613.2,289.7L611.5,291.5L609,293.1L607.3,295.3L604.6,297.7L603.6,296.1L604.2,294.3L602.3,292.8L604.2,291.8L606.6,291.6L605.5,290L609.1,288L609.1,284.9L608.4,283.1L608.5,280.5L607.6,278.7L605.6,276.8L603.9,274.5L601.5,271.4L598.6,269.9L599.1,268.9L600.4,268.3L599.2,266L596.4,266L595,263.6L593.4,261.5L594.5,260.9L596.3,260.9L598.4,260.6L600.1,259.2L601.3,260.2L603.5,260.7L603.4,262.2L604.6,263.2Z"/>
<path fill="#fef0d9" d="M595.6,304L595.8,305.3L597.3,305L598,304L598.6,304.2L600,305.8L601,307.5L601.2,309.3L601,310.5L601.3,311.4L601.5,312.9L602.3,313.6L603.3,315.9L603.3,316.8L601.6,317L599.4,315.1L596.6,313L596.3,311.7L594.9,309.9L594.5,307.7L593.6,306.3L593.8,304.4L593.3,303.3L593.6,302.9ZM636.2,308.5L634.5,309.4L632.5,309L629.9,309L629.2,311.9L628.3,312.8L627.2,316.5L625.3,317L623.2,316.3L622.1,316.5L620.7,317.8L619.3,317.6L617.8,318.2L616.2,316.7L615.8,315L617.5,315.9L619.2,315.4L619.6,313.2L620.6,312.7L623.4,312.1L624.9,310L626,308.4L627.1,309.7L627.6,308.8L628.7,308.9L628.7,307.3L628.8,306L630.4,304.2L631.5,302.1L632.4,302.1L633.7,303.4L633.8,304.6L635.4,305.3L637.4,306.1L637.3,307.1L635.7,307.2Z"/>
<path fill="#fef0d9" d="M606.5,335.5L604,335.5L602.1,333.4L599.3,331.2L598.3,329.6L596.6,327.5L595.5,325.6L593.9,321.9L591.8,319.7L591.1,317.5L590.3,315.4L588.1,313.8L586.9,311.6L585.1,310.1L582.6,307.2L582.3,305.9L583.8,306L587.4,306.5L589.5,309.1L591.4,310.8L592.7,311.9L594.9,314.7L597.3,314.8L599.3,316.5L600.6,318.7L602.4,319.9L601.5,322.1L602.8,323L603.6,323L603.9,324.9L604.7,326.3L606.4,326.5L607.5,328.2L606.8,331.4ZM612.9,337.9L617.3,338.2L617.8,337.1L622,338.3L622.8,340L626.2,340.5L628.9,342.1L626.2,343.1L623.7,342L621.7,342.1L619.3,341.9L617.2,341.4L614.6,340.4L612.9,340.2L611.9,340.5L607.8,339.4L607.5,338.3L605.4,338.1L607.1,335.6L609.8,335.8L611.7,336.8L612.6,337ZM634.5,309.4L633.3,311.8L635.1,314.2L634.7,315.4L637.3,317.8L634.6,318.2L633.9,319.9L633.9,322.3L631.7,324.1L631.6,326.7L630.5,330.7L630.2,329.8L627.6,330.9L626.7,329.3L625.1,329.2L624,328.3L621.2,329.3L620.4,328L618.9,328.2L617,327.9L616.7,324.4L615.6,323.6L614.5,321.4L614.2,319.1L614.4,316.7L615.8,315L616.2,316.7L617.8,318.2L619.3,317.6L620.7,317.8L622.1,316.5L623.2,316.3L625.3,317L627.2,316.5L628.3,312.8L629.2,311.9L629.9,309L632.5,309ZM651.7,316.5L649.9,319.1L648.2,319.6L646,319.1L642.1,319.2L640.1,319.6L639.8,321.6L641.8,323.9L643.1,322.7L647.4,321.8L647.2,323L646.2,322.6L645.1,324.2L643.1,325.2L645.2,328.5L644.7,329.4L646.6,332.4L646.5,334.1L645.3,334.9L644.4,334L645.6,331.9L643.3,332.9L642.8,332.1L643.1,331.1L641.5,329.6L641.8,327.1L640.2,327.9L640.3,330.9L640.2,334.6L638.7,335L637.8,334.3L638.6,331.8L638.3,329.3L637.3,329.3L636.7,327.5L637.7,325.8L638.1,323.7L639.3,319.8L639.8,318.7L641.7,316.8L643.5,317.6L646.4,317.9L649.1,317.8L651.3,315.9ZM673,336.4L671.7,338.2L671.6,336.2L672.1,335.3L672.6,334.4L673.1,335.2ZM669.3,330.9L670.2,330.7L671,329.4L671.2,326L667.8,326L666.9,324.4L664.9,323.9L663.9,322.6L667,322L668.2,321.2L671.9,322.2L672.3,323.2L672.8,327.4L675.1,329L677.1,326.2L679.8,324.6L681.9,324.6L683.8,325.6L685.5,326.5L688,327L687.6,335.5L686.9,344L685.1,341.9L682.8,341.3L682.2,342.1L679.3,342.2L680.4,340L681.9,339.3L681.5,336.5L680.5,334.3L676.2,332.1L674.3,331.9L671,329.4L670.2,330.7ZM650.1,343.4L650.3,343.9L650.2,344.7L648.6,346.7L646.5,347.3L646.3,346.9L646.6,346.1L647.7,344.5ZM645.5,341.3L645,342.8L641.5,343.5L638.5,343.2L638.6,342.3L640.4,341.7L641.8,342.5L643.4,342.3ZM636.4,341.8L636.7,342.9L634,343.5L632.4,343.8L631.1,343.8L632,342.3L633.3,342.3L634,341.3L634.8,342L636.2,341.8ZM640.2,346.2L639.5,345.5L638.3,344.6L636.2,345.2L638.2,346.3L639,347ZM659.7,317.2L659.6,319.5L658.4,319.3L658.1,320.9L659,322.2L658.3,322.6L657.4,320.9L656.7,317.6L657.1,315.5L657.9,314.5L658.1,315.9L659.4,316.2ZM663.6,328.3L664.4,330.3L662.5,329.2L660.6,329L659.3,329.2L657.7,329.1L658.3,327.6L661.1,327.5ZM656.2,329.2L655.3,330.1L653.7,329.6L653.3,328.5L655.6,328.4Z"/>
<path fill="#fef0d9" d="M650.1,343.4L650.4,342.8L652.4,342.2L654,342.1L654.8,341.8L655.6,342.1L654.7,342.8L652.2,344L650.2,344.7L650.3,343.9Z"/>
<path fill="#fef0d9" d="M653.4,298.2L653.8,300L654,301.4L653.4,303.8L652.4,301.2L651.4,302.5L652.2,304.4L651.7,305.6L648.9,304.1L648.1,302.2L648.7,301L647.2,299.7L646.5,300.8L645.4,300.7L643.8,302.2L643.4,301.4L644.1,299.2L645.5,298.5L646.7,297.5L647.6,298.7L649.3,298L649.6,296.8L651.2,296.7L650.9,294.7L652.9,295.9L653.2,297.3ZM638.5,271.9L640,272.6L640.6,271.9L640.9,272.6L640.7,273.7L641.8,275.6L641.6,277.7L640.4,278.6L640.3,280.7L641.1,282.8L642.4,283.1L643.3,282.8L646.4,284.2L646.4,285.6L647.2,286.3L647.1,287.5L645.1,286.2L644.1,284.8L643.7,285.8L642,284.2L640,284.6L638.8,284L638.7,282.9L639.4,282.3L638.6,281.7L638.4,282.6L637.1,281.1L636.6,280L636.1,277.5L637.2,278.3L636.7,274.2L637.1,271.9ZM637,290.5L637.6,292.6L636.2,294.1L635.1,295.9L632.3,298.3L633.3,296.5L634.8,294.9L636,293.1ZM647.5,293.4L646.7,294.2L646.2,295.9L645.5,296.6L643.9,294.8L644.4,294.1L644.9,293.4L645,291.8L646.2,291.6L646,293.4L647.5,290.9ZM642.7,290.4L642.3,289.1L643.7,290L645.2,289.9L645.2,291L644.3,292.1L642.9,292.9L642.7,291.7ZM650.5,288.4L651.4,291.4L649.6,290.7L649.7,291.5L650.4,293.1L649.4,293.7L649.1,291.9L648.4,291.8L647.9,290.2L649.3,290.4L649.1,289.4L647.5,287.4L649.7,287.5ZM641.1,286.1L640.7,288.3L639.6,287L638.2,285L640.2,285.1Z"/>
<path fill="#fef0d9" d="M637.1,209.6L637.6,210L636.7,209.9L636.3,210.7L636.2,211.6L637.4,213.5L636.6,214.1L636.5,214.5L636.1,215.3L634.9,215.7L634.3,216.4L634.9,217.5L634.8,217.8L635.8,218.2L637.6,219.4L637.6,220L636.8,220.2L635.3,220.3L635.1,221.5L634.1,221.4L634,221.6L632.8,221.1L632.7,221.6L632.2,221.8L631.9,221.3L631.2,221.1L630.4,220.7L630.5,219.5L630.8,219.2L630.4,218.8L630.3,217.4L629.9,216.9L628.5,216.7L627.2,216L628,214.3L629.6,212.9L630,211.1L631.5,211.9L633.3,212L632.2,210.6L634.8,209.5L634.8,208.1Z"/>
<path fill="#fef0d9" d="M637.6,219.4L641,222.5L642.3,224.1L643.7,227.1L643.5,228.6L641.8,229.1L640.5,230.2L638.6,230.4L637.8,229L637.3,227L635.1,224.3L636.6,223.9L634,221.6L634.1,221.4L635.1,221.5L635.3,220.3L636.8,220.2L637.6,220Z"/>
<path fill="#fef0d9" d="M618.9,190.7L622.9,191.5L626.6,193.3L629,195.7L632.1,195.7L633.2,194.7L636,194L636.5,196.3L636.4,197.2L637.6,200L637.8,202.5L635,202L633.8,202.9L635.7,205.2L637.3,208.2L636.3,208.3L637.1,209.6L634.8,208.1L634.8,209.5L632.2,210.6L633.3,212L631.5,211.9L630,211.1L629.6,212.9L628,214.3L627.2,216L624.6,216.7L623.6,217.9L621.6,218.6L622.2,217.4L621.2,216.4L622,214.7L620.2,213.3L618.8,214.2L617.4,216L616.9,217.7L614.8,217.8L614.3,219.1L616.2,220.8L618.2,221.2L618.8,222.4L620.8,223.2L622.4,221.3L624.8,222.3L626.2,222.4L627.1,223.8L624.4,224.5L624,225.9L622.4,227.2L622.1,229L625,230.5L626.9,233L629.1,235.4L631.3,237.4L632,239.4L630.8,240.1L631.8,241.5L633.4,242.3L633.7,244.4L633.8,246.5L632.6,246.7L631.8,249.5L630.8,253L629.5,256.1L626.9,258.5L624.2,260.7L621.7,261L620.5,262.2L619.6,261.3L618.5,262.6L615.6,263.9L613.3,264.3L613,267.1L611.7,267.2L610.8,265.3L611.2,264.3L608,263.5L607,263.9L604.6,263.2L603.4,262.2L603.5,260.7L601.3,260.2L600.1,259.2L598.4,260.6L596.3,260.9L594.5,260.9L593.4,261.5L592.3,261.9L593.1,264.9L591.8,264.8L591.5,264.2L591.3,263.1L589.8,263.9L588.7,263.4L586.9,262.4L587.2,260.3L585.7,259.8L584.8,257.4L582.5,257.8L582.2,254.7L583.9,252.5L583.5,250.4L583,248.4L581.9,247.7L580.8,246.2L579.5,246.4L577,246L577.5,244.9L576.1,243.3L574.8,244.4L572.8,243.7L570.6,245.4L569,247.3L567.3,247.7L566.1,247L565,246.9L563.2,246.3L562.2,247L561.1,248.9L560.5,246.8L559.2,247.4L556.6,247.1L554,246.5L551.9,245.4L550.1,244.9L549.1,243.6L547.7,243.3L545.1,241.6L543.2,240.7L542.4,241.4L538.9,239.5L536.4,237.9L535.1,235L536.7,235.4L536.5,234L535.3,232.7L534.9,230.6L531.8,227.5L527.9,226.4L526.8,224.4L524.8,223.2L524.2,222.5L523.5,221L523.3,220L521.8,219.4L521.2,219.7L519.9,217.3L520.4,216.7L519.9,216.1L521.5,214.8L522.8,214.3L525.2,214.7L525.5,213L528.1,212.7L528.5,211.7L531.3,210.3L531.4,209.7L530.7,208.2L531.8,207.5L528.3,203.1L532,202.1L532.8,201.5L532.4,196.9L536.8,197.7L537.4,196.6L536.4,194L538,193.8L538.7,192.1L539.4,191.9L540.8,193.7L543.1,195L546.4,196L548.8,198L549.3,201L550.6,202.1L553.2,202.6L556.2,202.9L559.4,204.5L560.8,204.8L562.8,207.2L564.7,208.7L567,208.7L571.6,209.2L574.2,208.9L576.5,209.3L580.3,210.8L582.8,210.8L584.2,211.6L585.9,210.2L588.9,209.4L592,209.3L594,208.3L594.8,207L595.8,206.1L595,205.2L593.8,204.3L594,202.6L595.3,202.8L597.7,203.4L599,202L601.6,201L602.1,199.3L603.2,198.6L605.9,198.2L607.7,198.5L607.4,197.6L604.5,195.8L602.3,195L601.4,196L599.1,195.6L598.2,195.9L597,194.9L596.9,192.3L596.7,190.4L599.7,191.4L601.5,189.8L600.7,188.7L600.6,186L601.1,185.2L600.1,183.8L598.6,183.2L599.3,182L601.4,181.5L603.9,181.5L607.4,182.2L609.8,183.1L613,185.6L614.5,186.7L616.4,188.3ZM613.4,271.4L611.7,272.7L609.7,271.9L609.3,269.6L610.2,268.4L612.5,267.7L613.9,267.8L614.5,268.8L613.7,269.9Z"/>
<path fill="#fef0d9" d="M145.2,252.6L143.9,254.9L143.2,256.8L142.4,260.3L142,261.6L142.2,263L142.7,264.3L142.9,266.3L144.1,268.3L144.4,269.7L145.1,271L147.4,271.7L148.2,272.8L150.3,272.1L152.1,271.8L153.8,271.4L155.3,270.9L156.9,269.8L157.7,268.3L158.1,266.1L158.6,265.4L160.3,264.7L162.7,264.1L164.7,264.2L166.1,263.9L166.6,264.5L166.3,265.7L164.9,267.3L164.2,268.9L164.5,269.3L164.1,270.5L163.2,272.5L162.7,271.8L162.3,271.9L161.8,271.9L160.8,273.5L160.4,273.2L160.1,273.3L160.1,273.7L158,273.7L155.9,273.7L155.7,275.1L154.7,275.1L155.4,276L156.2,276.6L156.4,277.2L156.7,277.3L156.6,278.2L153.6,278.2L152.3,280.4L152.5,280.9L152.2,281.5L152.1,282.2L149.8,279.4L148.7,278.6L147,277.9L145.7,278.1L143.7,279.1L142.5,279.3L141,278.6L139.3,278.1L137.4,276.9L135.7,276.6L133.3,275.4L131.6,274.1L131.1,273.4L129.9,273.3L127.6,272.4L126.9,271.2L124.7,269.8L123.8,268.1L123.4,266.8L124.2,266.6L124.1,265.8L124.8,265.2L124.9,264.3L124.3,263.1L124.3,262L123.8,260.7L122.2,258.1L120.4,256.1L119.6,254.5L117.9,253.4L117.6,252.8L118.4,251.1L117.4,250.5L116.3,249.3L116.2,247.4L115.1,247.2L114.2,245.9L113.5,244.6L113.6,243.8L113,241.8L112.9,239.8L113.2,238.8L112,237.8L111.2,237.9L110.2,237.2L109.5,238.2L109.4,239.5L109,241.4L109.4,242.5L110.6,244.3L110.7,244.9L111,245.1L111.1,246L111.5,246L111.5,247.6L112,248.3L112.2,249.2L113.3,250.6L113.5,253L113.9,254.1L114.2,255.4L114.1,256.7L115.2,256.8L115.8,258L116.4,259.2L116.3,259.6L115.2,260.6L114.8,260.6L114.5,259L113.3,257.5L111.9,256.3L110.9,255.6L111.4,253.7L111.4,252.3L110.5,251.5L109.2,250.3L108.8,250.6L108.4,249.9L107.2,249.3L106.3,247.8L106.5,247.6L107.4,247.8L108.5,246.8L108.9,245.6L107.7,243.7L106.7,243L106.3,241.4L106.1,239.7L105.8,237.6L105.7,235.2L108.3,235L111.1,234.7L110.8,235.3L113.6,236.5L118,238.4L122.4,238.3L124.2,238.3L124.5,237.3L128.3,237.3L128.9,238.2L129.7,239L130.7,240.2L131,241.5L131.2,243L132.1,243.8L133.8,244.5L135.7,242.5L137.5,242.4L138.8,243.5L139.5,245.3L139.9,246.8L140.8,248.3L140.9,250.1L141.3,251.3L142.9,252.1L144.3,252.7Z"/>
<path fill="#fef0d9" d="M160.1,273.7L160.1,273.3L160.4,273.2L160.8,273.5L161.8,271.9L162.3,271.9L162.2,272.3L162.6,272.3L162.5,273L162,274.1L162.2,274.5L161.8,275.5L161.9,275.7L161.5,277L161,277.7L160.5,277.8L160,278.7L159.3,278.7L159.8,275.8Z"/>
<path fill="#fef0d9" d="M156.7,284.3L155.6,283.9L154.2,283.8L153.2,283.3L152.1,282.2L152.2,281.5L152.5,280.9L152.3,280.4L153.6,278.2L156.6,278.2L156.7,277.3L156.4,277.2L156.2,276.6L155.4,276L154.7,275.1L155.7,275.1L155.9,273.7L158,273.7L160.1,273.7L159.8,275.8L159.3,278.7L160,278.7L160.7,279.2L160.9,278.8L161.6,279.1L160.4,280.1L159.2,280.9L159,281.4L159.2,281.9L158.6,282.5L158.1,282.7L158.2,283L157.7,283.3L156.9,283.9Z"/>
<path fill="#fef0d9" d="M161.9,285.2L161.6,285.9L160.3,285.8L159.5,285.6L158.6,285.1L157.3,284.9L156.7,284.3L156.9,283.9L157.7,283.3L158.2,283L158.1,282.7L158.6,282.5L159.3,282.7L159.7,283.3L160.4,283.7L160.4,284L161.4,283.7L161.9,283.9L162.2,284.2Z"/>
<path fill="#fef0d9" d="M162.9,286.3L162.6,285.5L161.9,285.2L162.2,284.2L161.9,283.9L161.4,283.7L160.4,284L160.4,283.7L159.7,283.3L159.3,282.7L158.6,282.5L159.2,281.9L159,281.4L159.2,280.9L160.4,280.1L161.6,279.1L161.8,279.2L162.3,278.8L163,278.7L163.2,278.9L163.5,278.8L164.6,279L165.6,279L166.4,278.7L166.7,278.4L167.4,278.5L167.9,278.7L168.5,278.7L169,278.4L170,278.8L170.4,278.8L171,279.3L171.6,279.9L172.4,280.3L172.9,281L172.2,281L171.8,281.3L171,281.7L170.4,281.7L169.9,282L169.4,281.9L169.1,281.5L168.8,281.6L168.5,282.2L168.3,282.2L168.2,282.7L167.3,283.4L166.9,283.7L166.6,284.1L166,283.5L165.4,284.2L164.9,284.2L164.4,284.3L164.3,285.6L164,285.6L163.6,286.2Z"/>
<path fill="#fef0d9" d="M166.2,291.2L165.5,290.4L164.5,289.4L164,288.5L163.1,287.7L162.1,286.5L162.4,286.1L162.7,286.5L162.9,286.3L163.6,286.2L164,285.6L164.3,285.6L164.4,284.3L164.9,284.2L165.4,284.2L166,283.5L166.6,284.1L166.9,283.7L167.3,283.4L168.2,282.7L168.3,282.2L168.5,282.2L168.8,281.6L169.1,281.5L169.4,281.9L169.9,282L170.4,281.7L171,281.7L171.8,281.3L172.2,281L172.9,281L172.7,281.3L172.6,281.9L172.7,282.8L172.1,283.7L171.7,284.8L171.6,285.9L171.6,286.6L171.6,287.8L171.2,288L170.9,289.1L171,289.8L170.5,290.5L170.6,291.2L170.9,291.6L170.3,292.2L169.7,292L169.3,291.5L168.6,291.3L168,291.6L166.6,290.9Z"/>
<path fill="#fef0d9" d="M172.1,298.7L170.9,298.1L170.4,297.6L170.7,297.1L170.7,296.6L170,295.9L169.2,295.4L168.4,295.1L168.3,294.3L167.7,293.9L167.8,294.6L167.3,295.2L166.9,294.5L166.1,294.3L165.8,293.7L165.9,292.9L166.3,292.1L165.7,291.7L166.2,291.2L166.6,290.9L168,291.6L168.6,291.3L169.3,291.5L169.7,292L170.3,292.2L170.9,291.6L171.4,293.1L172.2,294.1L173.2,295.2L172.3,295.5L172.3,296.5L172.7,296.9L172.4,297.2L172.4,297.7L172.2,298.2Z"/>
<path fill="#fef0d9" d="M183.6,301.3L182.9,300.6L182.5,299.2L183.1,298.5L182.5,298.3L182.1,297.4L181,296.7L180,296.9L179.5,297.8L178.5,298.4L178,298.5L177.8,299.1L178.8,300.5L178.2,300.8L177.8,301.2L176.7,301.3L176.4,299.8L176.1,300.2L175.3,300.1L174.9,299L174,298.8L173.4,298.5L172.4,298.5L172.3,299.1L172.1,298.7L172.2,298.2L172.4,297.7L172.4,297.2L172.7,296.9L172.3,296.5L172.3,295.5L173.2,295.2L174,296.2L173.9,296.7L174.8,296.8L175.1,296.6L175.7,297.3L176.8,297.1L177.8,296.4L179.2,295.9L180.1,295.1L181.3,295.3L181.2,295.5L182.5,295.6L183.5,296L184.2,296.8L185,297.6L184.7,297.9L185.2,299.5L184.7,300.3L184,300.1Z"/>
<path fill="#fef0d9" d="M197,268.2L198.4,268.3L200.3,268.7L200.3,270.1L200,271.1L199.4,271.6L199.9,272.4L199.8,273.1L198.4,272.6L197.3,272.8L195.9,272.6L194.8,273.1L193.7,272.3L194,271.5L196,271.8L197.7,272L198.6,271.4L197.7,270.3L197.8,269.3L196.4,268.9Z"/>
<path fill="#fef0d9" d="M200.3,268.7L200.6,268.3L202.4,268.3L203.6,269L204.3,268.9L204.6,269.8L205.8,269.8L205.7,270.5L206.7,270.6L207.7,271.6L206.7,272.7L205.7,272.1L204.7,272.2L203.9,272.1L203.5,272.5L202.6,272.7L202.3,272.1L201.5,272.5L200.4,274.2L199.9,273.8L199.8,273.1L199.9,272.4L199.4,271.6L200,271.1L200.3,270.1Z"/>
<path fill="#fef0d9" d="M450.5,211.8L450.6,210.7L449.7,208.9L448.4,208L447.1,207.7L446.2,206.9L446.4,206.6L448.3,207L451.4,207.4L454.5,208.7L455,209.2L456.2,208.8L458.2,209.3L459.1,210.4L460.5,211L460.1,211.3L461.4,212.7L461.2,213L460,212.9L458.3,212.1L457.8,212.5L455,212.9L452.7,211.7Z"/>
<path fill="#fef0d9" d="M455,212.9L457.8,212.5L458.4,213.2L459.3,213.7L459,214.3L460.3,215.2L459.9,216L460.9,216.7L461.9,217.2L462.3,219L461.6,219L460.4,217.5L460.4,217.1L459.4,217.1L458.7,216.5L458.2,216.5L457.2,215.8L455.5,215.1L455.5,213.9Z"/>
<path fill="#fef0d9" d="M458.7,216.5L459.4,217.1L460.4,217.1L460.4,217.5L461.6,219L460,218.7L458.7,217.5L458.2,216.5ZM462.9,212.6L463.9,212.8L464.1,212.1L465.2,211.1L466.6,212.5L468,214.3L469,214.4L469.9,215.1L468.1,215.3L468.2,217.3L468,218.2L467.3,218.9L467.6,220.1L467.1,220.3L465.5,218.9L466,217.6L465.2,216.9L464.5,217.1L462.3,219L461.9,217.2L460.9,216.7L459.9,216L460.3,215.2L459,214.3L459.3,213.7L458.4,213.2L457.8,212.5L458.3,212.1L460,212.9L461.2,213L461.4,212.7L460.1,211.3L460.5,211L461.2,211Z"/>
<path fill="#fef0d9" d="M440.8,212.3L444,213.3L446.4,212.9L448.2,213.1L450.5,211.8L452.7,211.7L455,212.9L455.5,213.9L455.5,215.1L457.2,215.8L458.2,216.5L456.9,217.3L458.1,220.2L457.8,221L459.3,223.1L458.4,223.6L457.5,222.9L454.9,222.6L454.1,223L451.7,223.4L450.5,223.3L448.2,224.3L446.4,224.3L445.2,223.8L442.9,224.6L442.1,224.1L442.2,225.5L441.7,226.1L441.2,226.7L440.3,225.5L440.9,224.5L439.7,224.7L437.8,224.1L436.5,225.6L433.2,225.9L431.3,224.5L429,224.4L428.6,225.5L427.1,225.8L424.9,224.4L422.5,224.5L421,221.9L419.3,220.4L420.1,218.4L418.6,217.2L420.7,214.7L424,214.6L424.6,212.6L428.7,213L431,211.3L433.3,210.5L436.8,210.5ZM420.5,214L418.8,215.4L418,214.2L418,213.6L418.5,213.3L419,211.7L417.8,211L419.9,210.2L421.7,210.6L422.1,211.6L424.1,212.4L423.8,213L421.3,213.2Z"/>
<path fill="#fef0d9" d="M447.8,233L443.8,235.8L441.2,234.8L441.4,234.4L441.3,233.3L441.7,231.9L442.7,230.9L442.2,229.9L441.3,229.7L440.8,227.7L441.2,226.7L441.7,226.1L442.2,225.5L442.1,224.1L442.9,224.6L445.2,223.8L446.4,224.3L448.2,224.3L450.5,223.3L451.7,223.4L454.1,223L453.2,224.6L452.1,225.2L452.6,227.2L452.2,230.3Z"/>
<path fill="#fef0d9" d="M461.2,226.2L462.8,227L463.2,228.5L462.2,229.5L462,231.5L463.9,234L466.8,235.4L468.2,237.4L468.1,239.3L468.8,239.3L469,240.7L470.4,242L469.1,241.9L467.6,241.7L466.3,244.2L462.1,244L455.3,238.7L451.8,236.9L449,236.2L447.8,233L452.2,230.3L452.6,227.2L452.1,225.2L453.2,224.6L454.1,223L454.9,222.6L457.5,222.9L458.4,223.6L459.3,223.1Z"/>
<path fill="#fef0d9" d="M236.9,463.3L235.1,463.4L233.8,462.5L232.6,462.4L230.5,462.4L228.1,456.9L229.3,458.1L231.1,459.9L234.3,461.4L237.2,462ZM216.2,377.9L217.7,379.7L218.4,377.6L220.9,377.7L221.4,378.3L225.9,382.6L227.8,383L230.8,384.9L233.2,385.9L233.7,387.1L231.9,391L234.3,391.7L236.8,392.1L238.6,391.7L240.3,389.7L240.4,387.4L241.5,386.9L242.8,388.4L243,390.5L241.3,392L239.9,393L237.7,395.6L235.3,399.1L235.1,401.2L235,403.9L235.5,406.5L235.1,407.1L235.2,408.8L235.3,410.1L238.5,412.4L238.6,414.2L240.2,415.3L240.3,416.6L239,419.9L236.1,421.3L232,421.8L229.5,421.6L230.4,423.1L230.4,425.1L231.2,426.4L230.2,427.3L228.1,427.6L225.8,426.7L225.2,427.4L226.2,430L227.8,430.7L228.8,429.9L229.8,431.3L228.1,432.1L226.9,433.7L227.4,436.3L227.3,437.6L225.4,437.6L224.2,438.9L224.2,440.9L226.9,442.7L229,443.3L229.1,445.5L227.2,447L226.9,449.9L225.5,450.9L225.1,452.1L226.8,454.7L228.7,456.2L227.9,456.1L225.9,455.7L221,455.3L219.5,453.9L218.8,452L217.5,452.1L216.4,451.2L215.2,448.6L216.3,447.4L216.3,445.8L215.6,444.5L215.9,442.4L215.4,439L214.7,437.5L215.4,437L214.9,436L213.7,435.5L214,434.4L212.8,433.4L211.3,430.5L212,429.9L210.6,426.8L210.3,424.1L210.2,421.8L211.2,420.9L209.9,418.3L209.2,415.9L210.5,414.2L209.9,412L210.5,409.5L210,407.1L209.3,406.6L207.3,402.1L208.2,399.4L207.5,396.9L207.9,394.5L208.9,392.1L210.2,390.5L209.4,389.4L209.8,388.6L209.1,384.2L211.4,382.9L211.9,380.2L211.5,379.6L213.2,377.2Z"/>
<path fill="#fef0d9" d="M220.9,377.7L218.4,377.6L217.7,379.7L216.2,377.9L213.2,377.2L211.5,379.6L209.9,379.9L208.7,376.3L207.1,373.4L207.6,370.9L206.3,369.8L205.8,367.9L204.5,366.1L205.7,363.3L204.5,361.1L205,360.2L204.5,359.3L205.3,357.9L205.1,355.7L205.1,353.9L205.6,353L203.3,348.8L205,349L206.2,349L206.7,348.2L208.6,347.1L209.8,346.1L212.8,345.7L212.6,347.7L213,348.7L212.9,350.4L215.5,352.7L218.1,353.2L219.1,354.2L220.6,354.7L221.6,355.4L223.1,355.4L224.4,356.2L224.6,357.7L225.1,358.4L225.3,359.6L224.6,359.6L225.7,362.7L230.1,362.8L229.9,364.3L230.2,365.3L231.5,366L232.2,367.7L231.9,369.7L231.4,370.9L231.8,372.4L231.1,372.9L231,372.1L228.8,370.8L226.6,370.7L222.8,371.5L221.9,373.8L222,375.2L221.4,378.3Z"/>
<path fill="#fef0d9" d="M235.3,399.1L237.7,395.6L239.9,393L241.3,392L243,390.5L242.8,388.4L241.5,386.9L240.4,387.4L240.7,385.9L240.9,384.4L240.7,382.9L239.9,382.5L239.1,382.9L238.2,382.8L237.9,381.8L237.4,379.4L236.9,378.6L235.3,377.9L234.5,378.4L232,377.9L231.9,374.3L231.1,372.9L231.8,372.4L231.4,370.9L231.9,369.7L232.2,367.7L231.5,366L230.2,365.3L229.9,364.3L230.1,362.8L225.7,362.7L224.6,359.6L225.3,359.6L225.1,358.4L224.6,357.7L224.4,356.2L223.1,355.4L221.6,355.4L220.6,354.7L219.1,354.2L218.1,353.2L215.5,352.7L212.9,350.4L213,348.7L212.6,347.7L212.8,345.7L209.8,346.1L208.6,347.1L206.7,348.2L206.2,349L205,349L203.3,348.8L202,349.3L201,349L200.9,345L199.1,346.5L197.1,346.5L196.2,345.1L194.6,344.9L195,343.8L193.7,342.2L192.6,339.8L193.2,339.4L193.2,338.3L194.5,337.5L194.3,336.1L194.8,335.2L194.9,334L197.5,332.2L199.4,331.7L199.7,331.3L201.8,331.4L202.7,324.3L202.7,323.1L202.3,321.6L201.3,320.7L201.3,318.8L202.6,318.4L203.1,318.6L203.2,317.6L201.8,317.4L201.8,315.7L206.3,315.8L207.1,314.9L207.7,315.7L208.2,317.2L208.6,316.9L209.9,318.3L211.6,318.1L212.1,317.3L213.8,316.7L214.8,316.3L215.1,315.2L216.7,314.5L216.6,313.9L214.7,313.7L214.4,312L214.5,310.3L213.5,309.6L213.9,309.4L215.6,309.7L217.4,310.4L218.1,309.7L219.8,309.3L222.4,308.4L223.2,307.4L222.9,306.6L224.1,306.5L224.7,307.1L224.3,308.3L225.1,308.6L225.6,309.9L225,310.8L224.6,313L225.1,314.3L225.3,315.5L226.7,316.8L227.8,316.9L228.1,316.4L228.8,316.3L229.9,315.8L230.6,315.1L231.9,315.3L232.5,315.2L233.7,315.5L233.9,314.9L233.5,314.4L233.8,313.6L234.7,313.9L235.8,313.6L237.1,314.2L238.1,314.7L238.8,314L239.4,314.1L239.7,314.8L240.8,314.7L241.7,313.7L242.4,311.7L243.8,309.3L244.6,309.2L245.1,310.7L246.4,315.2L247.6,315.7L247.6,317.5L245.9,319.6L246.6,320.4L250.7,320.8L250.8,323.4L252.5,321.7L255.4,322.7L259.3,324.3L260.4,325.8L260.1,327.2L262.7,326.4L267.2,327.8L270.7,327.7L274.1,329.9L277.1,332.8L278.9,333.5L280.8,333.6L281.7,334.5L282.5,337.8L282.9,339.4L282.1,343.7L281,345.4L277.9,349L276.5,352L274.9,354.3L274.3,354.3L273.7,356.2L274.1,361.1L273.7,365.1L273.6,366.9L272.9,367.9L272.7,371.4L270.6,374.8L270.4,377.5L268.6,378.6L268.2,380.2L265.8,380.2L262.3,381.2L260.8,382.3L258.3,383.1L255.9,385.2L254.2,387.8L254.1,389.7L254.6,391.2L254.5,393.8L254.1,395.1L252.8,396.5L250.9,401.1L249.3,403.2L248,404.4L247.4,406.9L246.2,408.4L245.3,406.9L246.1,405.7L244.5,403.9L242.6,402.5L240.1,400.8L239.2,400.9L236.7,398.8Z"/>
<path fill="#fef0d9" d="M177.7,329.1L178.9,327.1L178.4,326L177.5,327.2L176.1,326.1L176.6,325.3L176.2,323L177,322.6L177.4,320.9L178.3,319.3L178.1,318.2L179.4,317.6L181,316.6L183.3,318.1L183.7,318L184.2,319.2L186.2,319.5L186.9,319.1L188,320L189,320.6L189.3,322.6L188.6,324.3L186.1,327L183.4,328L182,330.3L181.6,332.1L180.4,333.2L179.4,331.8L178.4,331.6L177.5,331.8L177.4,330.8L178,330.2Z"/>
<path fill="#fef0d9" d="M231.3,304.6L234,305.1L234.3,304.7L236.1,304.5L238.6,305.2L237.3,307.4L237.5,309.2L238.4,310.7L237.9,311.9L237.7,313.1L237.1,314.2L235.8,313.6L234.7,313.9L233.8,313.6L233.5,314.4L233.9,314.9L233.7,315.5L232.5,315.2L231.1,313L230.8,311.5L230.1,311.5L229.1,309.6L229.5,308.2L229.4,307.6L230.8,306.9Z"/>
<path fill="#fef0d9" d="M204.5,366.1L204,367.5L202.9,368.1L200.5,366.6L200.2,365.5L195.4,362.9L191.1,360.1L189.2,358.5L188,356.3L188.4,355.5L186.2,352.1L183.6,347.3L181.1,342.1L180.1,340.9L179.3,339L177.5,337.3L175.8,336.2L176.5,335.1L175.3,332.6L175.9,330.7L177.7,329.1L178,330.2L177.4,330.8L177.5,331.8L178.4,331.6L179.4,331.8L180.4,333.2L181.6,332.1L182,330.3L183.4,328L186.1,327L188.6,324.3L189.3,322.6L189,320.6L189.6,320.3L191.1,321.6L191.9,322.8L193,323.5L194.4,326.2L196.1,326.6L197.3,325.9L198.2,326.3L199.6,326.1L201.3,327.3L199.9,330L200.6,330L201.8,331.4L199.7,331.3L199.4,331.7L197.5,332.2L194.9,334L194.8,335.2L194.3,336.1L194.5,337.5L193.2,338.3L193.2,339.4L192.6,339.8L193.7,342.2L195,343.8L194.6,344.9L196.2,345.1L197.1,346.5L199.1,346.5L200.9,345L201,349L202,349.3L203.3,348.8L205.6,353L205.1,353.9L205.1,355.7L205.3,357.9L204.5,359.3L205,360.2L204.5,361.1L205.7,363.3Z"/>
<path fill="#fef0d9" d="M221.4,378.3L222,375.2L221.9,373.8L222.8,371.5L226.6,370.7L228.8,370.8L231,372.1L231.1,372.9L231.9,374.3L232,377.9L234.5,378.4L235.3,377.9L236.9,378.6L237.4,379.4L237.9,381.8L238.2,382.8L239.1,382.9L239.9,382.5L240.7,382.9L240.9,384.4L240.7,385.9L240.4,387.4L240.3,389.7L238.6,391.7L236.8,392.1L234.3,391.7L231.9,391L233.7,387.1L233.2,385.9L230.8,384.9L227.8,383L225.9,382.6Z"/>
<path fill="#fef0d9" d="M199.3,289.4L199.2,290.1L197.8,290.4L198.5,291.6L198.4,292.9L197.3,294.4L198.1,296.5L199.1,296.3L199.7,294.4L199,293.5L199,291.6L201.9,290.5L201.7,289.3L202.6,288.4L203.3,290.3L204.9,290.3L206.3,291.8L206.3,292.6L208.4,292.7L210.9,292.4L212.1,293.6L213.8,293.9L215.2,293.1L215.2,292.4L218.1,292.3L220.8,292.2L218.8,293L219.6,294.2L221.4,294.4L223.1,295.7L223.4,297.8L224.6,297.7L225.4,298.3L223.6,299.9L223.3,300.8L224.1,301.8L223.5,302.3L222.1,302.7L222.1,303.9L221.4,304.6L222.9,306.6L223.2,307.4L222.4,308.4L219.8,309.3L218.1,309.7L217.4,310.4L215.6,309.7L213.9,309.4L213.5,309.6L214.5,310.3L214.4,312L214.7,313.7L216.6,313.9L216.7,314.5L215.1,315.2L214.8,316.3L213.8,316.7L212.1,317.3L211.6,318.1L209.9,318.3L208.6,316.9L207.9,314.3L207.3,313.4L206.5,312.8L207.7,311.5L207.6,310.9L207,310.2L206.6,308.4L206.8,306.6L207.3,305.7L207.8,304.3L207,303.8L205.7,304.1L204,304L203.1,304.3L201.5,302L200.2,301.7L197.2,301.9L196.7,301L196.2,300.8L196.1,300.3L196.4,299.3L196.3,298.2L195.8,297.7L195.6,296.5L194.4,296.3L195.1,294.8L195.5,292.9L196.2,291.9L197.2,291.2L197.8,289.9Z"/>
<path fill="#fef0d9" d="M306.2,275.6L306,275.4L305.6,275.3L305.1,275.4L304.9,275.6L305.1,275.9L305.5,276L306,275.9ZM308.1,276.8L307.9,276.6L307.5,276.5L307,276.6L306.8,276.8L307,277L307.5,277.1L307.9,277ZM310.8,276.5L310.8,276.2L310.6,276.1L310.5,276.2L310.4,276.5L310.4,276.8L310.6,277L310.8,276.8ZM311.2,278.2L311.1,277.8L310.9,277.7L310.6,277.8L310.5,278.2L310.6,278.5L310.8,278.6L311.1,278.5ZM309.3,280.8L309.2,280.3L308.9,280.1L308.6,280.3L308.5,280.8L308.6,281.3L308.9,281.5L309.2,281.3ZM307.5,281.2L307.4,280.9L307.2,280.8L306.9,280.9L306.8,281.2L306.9,281.5L307.2,281.6L307.4,281.5ZM310.2,280.5L310.1,280.2L310,280.1L309.8,280.2L309.7,280.5L309.8,280.7L309.9,280.8L310.1,280.7Z"/>
<path fill="#fdd49e" d="M433.3,378.3L432.1,378.1L431.3,378.4L430.2,377.9L429.3,377.9L427.9,376.7L426.2,376.3L425.6,374.7L425.6,373.7L424.7,373.5L422.2,370.6L421.6,369.1L421.1,368.6L420.3,366.5L422.8,366.8L423.6,367.1L424.3,367L425.7,365.4L427.7,363.2L428.6,363L428.9,362.1L430.2,361.1L431.9,360.7L432.1,361.7L434,361.6L435,362.2L435.5,362.8L436.5,363L437.7,363.8L437.5,367.2L437,369L436.8,370.9L437.1,371.7L436.8,373.2L436.5,373.5L435.8,375.3Z"/>
<path fill="#fdd49e" d="M495.6,227.1L498,228.1L499.6,227.7L499.8,226.6L501.4,226.2L502.5,225.4L502.4,223.3L504.1,222.8L504.2,221.9L505.4,222.6L506.1,222.6L507.3,222.7L509,223.2L509.8,223.5L511.1,222.7L512,223.2L512.4,222L513.7,222L513.9,221.7L513.8,220.6L514.5,219.7L515.8,220.3L515.8,221.1L516.5,221.2L516.9,223.4L518,224.3L518.6,223.7L519.5,223.5L520.5,222.3L522,222.5L524.2,222.5L524.8,223.2L523.7,223.5L522.7,224L520.3,224.3L518.1,224.9L517.1,226L517.9,227.1L518.5,228.4L517.7,229.5L518,230.5L517.6,231.4L515.5,231.4L516.8,233.1L515.5,233.7L514.9,235.3L515.4,236.9L514.7,237.6L513.8,237.4L512.2,237.7L512.1,238.4L510.5,238.4L509.5,239.9L509.8,242.1L507.1,243.2L505.6,243L505.2,243.6L503.8,243.2L501.7,243.6L497.7,242.3L499.4,239.9L498.9,238.2L497.1,237.8L496.7,236.1L495.5,234.1L496.2,232.6L495.2,232.2L495.4,230.3Z"/>
<path fill="#fdd49e" d="M524.8,223.2L526.8,224.4L527.9,226.4L531.8,227.5L530.3,229.7L527.9,230.1L524.5,229.4L523.7,230.6L525,232.9L526.2,234.6L528.2,235.9L526.7,237.4L527.1,239.3L525.5,241.9L524.7,244.6L522.8,247.3L520.2,247.1L518.2,249.8L519.8,251L520.4,253L521.8,254.3L522.5,256.6L517.6,256.6L516.3,258.3L514.6,257.7L513.7,255.8L511.7,253.8L507.6,254.3L504,254.3L500.9,254.7L501.3,251.7L504.4,250.3L504,249.1L502.9,248.7L502.5,246.4L500.2,245.2L499.1,243.7L497.7,242.3L501.7,243.6L503.8,243.2L505.2,243.6L505.6,243L507.1,243.2L509.8,242.1L509.5,239.9L510.5,238.4L512.1,238.4L512.2,237.7L513.8,237.4L514.7,237.6L515.4,236.9L514.9,235.3L515.5,233.7L516.8,233.1L515.5,231.4L517.6,231.4L518,230.5L517.7,229.5L518.5,228.4L517.9,227.1L517.1,226L518.1,224.9L520.3,224.3L522.7,224L523.7,223.5Z"/>
<path fill="#fdd49e" d="M588.3,267.5L587.2,268.6L585.6,268.7L585,271.6L584.1,272L585.5,274.3L587.2,276.2L588.4,277.9L587.8,280.2L587.1,280.7L587.8,282L589.5,284.1L589.9,285.5L590,286.8L591.1,289.1L590.1,291.6L589.2,294.3L588.8,292.3L589.4,290.3L588.5,288.8L588.4,285.9L587.3,284.6L586.2,281.5L585.4,278.2L584.1,276L582.8,277.3L580.4,279.2L579.1,278.9L577.7,278.3L578,275.1L577.2,272.6L575,269.6L575.2,268.7L573.8,268.3L571.9,266.2L571.5,264.1L572.3,264.5L572.1,262.6L573.1,262L572.7,260.9L573.1,260L572.7,257.3L574.6,257.9L575.2,255.8L575.1,254.5L576,252.3L575.6,250.8L578.1,249L579.8,249.5L579.3,247.9L579.9,247.4L579.5,246.4L580.8,246.2L581.9,247.7L583,248.4L583.5,250.4L583.9,252.5L582.2,254.7L582.5,257.8L584.8,257.4L585.7,259.8L587.2,260.3L586.9,262.4L588.7,263.4L589.8,263.9L591.3,263.1L591.5,264.2L589.9,265.9L589.5,266.9Z"/>
<path fill="#fdd49e" d="M189,320.6L188,320L186.9,319.1L186.2,319.5L184.2,319.2L183.7,318L183.3,318.1L181,316.6L180.7,315.8L181.5,315.6L181.5,314.3L182,313.3L183.2,313.2L184.2,311.5L185.1,310.1L184.2,309.5L184.7,308L184.3,305.6L184.8,304.9L184.5,302.7L183.6,301.3L184,300.1L184.7,300.3L185.2,299.5L184.7,297.9L185,297.6L186.2,297.6L188,295.8L189,295.5L189.1,294.7L189.6,292.5L191,291.3L192.4,291.2L192.7,290.7L194.4,290.9L196.3,289.6L197.3,289L198.5,287.7L199.3,287.9L199.8,288.6L199.3,289.4L197.8,289.9L197.2,291.2L196.2,291.9L195.5,292.9L195.1,294.8L194.4,296.3L195.6,296.5L195.8,297.7L196.3,298.2L196.4,299.3L196.1,300.3L196.2,300.8L196.7,301L197.2,301.9L200.2,301.7L201.5,302L203.1,304.3L204,304L205.7,304.1L207,303.8L207.8,304.3L207.3,305.7L206.8,306.6L206.6,308.4L207,310.2L207.6,310.9L207.7,311.5L206.5,312.8L207.3,313.4L207.9,314.3L208.6,316.9L208.2,317.2L207.7,315.7L207.1,314.9L206.3,315.8L201.8,315.7L201.8,317.4L203.2,317.6L203.1,318.6L202.6,318.4L201.3,318.8L201.3,320.7L202.3,321.6L202.7,323.1L202.7,324.3L201.8,331.4L200.6,330L199.9,330L201.3,327.3L199.6,326.1L198.2,326.3L197.3,325.9L196.1,326.6L194.4,326.2L193,323.5L191.9,322.8L191.1,321.6L189.6,320.3Z"/>
<path fill="#fdbb84" d="M461.5,287L462.1,287.8L462.1,288.9L460.8,289.6L461.8,290.3L461,291.7L460.5,291.2L459.9,291.4L458.6,291.3L458.6,290.5L458.4,289.8L459.1,288.6L459.9,287.4L460.9,287.7Z"/>
<path fill="#fdbb84" d="M324.6,284.7L323.7,282.7L322.6,281.7L323.6,281.2L324.7,279.4L325.3,278.1L326.1,277.2L327.2,277.4L328.4,276.9L329.6,276.9L330.7,277.6L332.2,278.3L333.6,280.2L335,282L335.1,283.7L335.6,285.1L336.4,285.9L336.6,286.9L336.5,287.7L336.1,287.9L334.9,287.6L334.7,287.9L334.2,288L332.6,287.4L331.5,287.3L327.2,287.2L326.6,287.5L325.9,287.4L324.6,287.9L324.3,285.9L326.4,285.9L326.9,285.5L327.3,285.5L328.2,284.9L329.2,285.5L330.2,285.5L331.2,284.9L330.7,284.2L330,284.6L329.2,284.6L328.4,284L327.6,284L327.1,284.6Z"/>
<path fill="#fdbb84" d="M745.4,363.2L744.6,363.5L744,362.4L744.3,361.7ZM744.5,359.2L744.5,361.3L743.9,361L743.4,361.1L743.3,360.4L743.6,358.4Z"/>
<path fill="#fdbb84" d="M225.4,298.3L226.9,299.3L228.3,301L228.3,302.4L229.2,302.4L230.4,303.7L231.3,304.6L230.8,306.9L229.4,307.6L229.5,308.2L229.1,309.6L230.1,311.5L230.8,311.5L231.1,313L232.5,315.2L231.9,315.3L230.6,315.1L229.9,315.8L228.8,316.3L228.1,316.4L227.8,316.9L226.7,316.8L225.3,315.5L225.1,314.3L224.6,313L225,310.8L225.6,309.9L225.1,308.6L224.3,308.3L224.7,307.1L224.1,306.5L222.9,306.6L221.4,304.6L222.1,303.9L222.1,302.7L223.5,302.3L224.1,301.8L223.3,300.8L223.6,299.9Z"/>
<path fill="#fdbb84" d="M378.5,319.5L378.4,319.1L378.1,318.9L377.8,319.1L377.7,319.5L377.8,320L378.1,320.2L378.4,320ZM380.1,316L380,315.8L379.9,315.7L379.8,315.8L379.7,316L379.8,316.2L379.9,316.2L380,316.2Z"/>
<path fill="#fc8d59" d="M324.3,285.9L324.6,284.7L327.1,284.6L327.6,284L328.4,284L329.2,284.6L330,284.6L330.7,284.2L331.2,284.9L330.2,285.5L329.2,285.5L328.2,284.9L327.3,285.5L326.9,285.5L326.4,285.9Z"/>
<path fill="#fc8d59" d="M457.4,322.4L458.8,324.6L457.1,325.6L456.6,326.7L455.7,326.9L455.3,328.8L454.6,329.8L454.1,331.6L453.2,332.4L449.9,329.8L449.8,328.3L441.4,323L441.1,322.7L441,319.9L441.7,318.9L442.8,317.1L443.7,315.2L442.6,312.2L442.3,310.9L441.2,309.1L442.6,307.5L444.1,305.8L445.4,306.3L445.4,307.7L446.2,308.6L447.8,308.6L450.7,310.8L451.5,310.8L452,310.8L452.5,311.1L454,311.3L454.7,310.2L456.8,309.1L457.7,310L459.3,310L457.3,312.9Z"/>
<path fill="#fc8d59" d="M335,282L333.6,280.2L332.2,278.3L330.7,277.6L329.6,276.9L328.4,276.9L327.2,277.4L326.1,277.2L325.3,278.1L325.1,276.7L325.8,275.4L326.1,272.9L326,270.3L325.7,269L326,267.7L325.4,266.5L324.3,265.4L324.8,264.5L333.6,264.5L333.3,260.7L333.8,259.4L336,259.2L336,252.5L343.4,252.6L343.5,248.7L351.8,255L348.4,255L349.3,266.3L350.3,277.6L350.7,277.9L350.2,279.7L341.1,279.8L340.7,280.3L339.8,280.2L338.5,280.7L336.9,280L336.2,280L335.8,281.6Z"/>
<path fill="#fc8d59" d="M433,323.2L433.9,324.6L433.8,326.2L433.1,326.5L431.9,326.3L431.2,327.8L429.8,327.6L430,326.2L430.3,326L430.4,324.4L431.1,323.7L431.6,324Z"/>
<path fill="#fc8d59" d="M440.9,295.5L440.6,295.4L440.6,294.1L440.3,293.2L439.1,292.2L438.7,290.3L438.9,288.4L437.9,288.2L437.7,288.8L436.4,288.9L436.9,289.7L437.2,291.3L436,292.7L434.9,294.6L433.7,294.8L431.7,293.3L430.9,293.9L430.6,294.6L429.5,295.1L429.4,295.7L427.1,295.7L426.8,295.1L425.1,295L424.3,295.5L423.7,295.3L422.5,293.7L422.1,293L420.4,293.4L419.8,294.6L419.2,296.9L418.5,297.4L417.8,297.7L417.6,297.6L416.8,296.8L416.6,296L417,294.9L416.9,293.9L415.6,292.2L415.3,291.1L415.3,290.5L414.5,289.7L414.4,288.2L413.9,287.2L413.1,287.3L413.3,286.4L413.9,285.3L413.6,284.2L414.3,283.4L413.8,282.8L414.4,281.2L415.4,279.2L417.4,279.4L416.9,269.1L416.9,268L419.5,268L419.3,262.7L428.4,262.7L437.1,262.7L446.1,262.7L447,265.3L446.5,265.8L447,268.5L448,271.6L448.9,272.2L450.2,273.2L449.1,274.7L447.5,275.1L446.8,275.9L446.6,277.7L445.8,281.5L446.1,282.5L445.8,284.8L445,287.4L443.7,288.6L442.7,290.6L442.5,291.7L441.5,292.4L440.9,295.2Z"/>
<path fill="#fc8d59" d="M476.9,290L478.1,289.7L479.1,288.8L480,288.8L480.1,289.5L479.9,291L480,292.4L479.6,293.4L479,296.2L478,299.1L476.7,302.4L474.8,306.3L472.9,309.2L470.2,312.7L467.9,314.9L464.5,317.5L462.4,319.4L459.8,322.6L459.3,324L458.8,324.6L457.4,322.4L457.3,312.9L459.3,310L459.9,309.1L461.4,309.1L463.4,307.3L466.4,307.1L472.8,299.3L470.8,299.3L463.2,296.2L462.3,295.3L461.4,294L460.5,292.6L461,291.7L461.8,290.3L462.6,290.7L463,291.8L464.1,292.9L465.3,292.9L467.4,292.3L469.9,292L471.9,291.1L473,291L473.8,290.5L475.1,290.4L475.8,290.3Z"/>
<path fill="#fc8d59" d="M483.9,276.7L482.3,277.4L481.9,278.6L481.9,279.5L479.7,280.6L476.1,281.8L474.2,283.6L473.2,283.8L472.5,283.6L471.2,284.7L469.8,285.2L467.9,285.3L467.3,285.5L466.8,286.2L466.2,286.4L465.9,287L464.8,287L464,287.3L462.5,287.2L461.8,285.7L461.8,284.2L461.4,283.5L460.8,281.5L460.1,280.5L460.6,280.3L460.3,279.1L460.5,278.6L460.4,277.5L461.3,276.7L461,275.6L461.5,274.3L462.5,275L463.1,274.7L465.7,274.7L466.2,274.9L468.4,275.2L469.3,275.1L469.9,275.9L470.9,275.5L472.4,272.8L474.4,271.6L480.9,270.6L483,274.9Z"/>
<path fill="#ef6548" d="M400.4,335.5L401,337.5L401.6,339.1L402.2,339.9L403,341.3L404.6,341.1L405.3,340.7L406.6,341.1L406.9,340.4L407.5,338.9L409,338.8L409.1,338.3L410.3,338.3L410.1,339.3L412.8,339.2L412.9,340.9L413.3,341.9L413,343.5L413.1,345.1L413.9,346L413.7,349.1L414.3,348.9L415.2,349L416.7,348.6L417.7,348.7L417.9,349.5L417.7,350.8L418,352L417.7,353L417.8,353.9L413.1,353.9L412.8,362.2L414.2,364.3L415.7,366L411.5,367L406,366.7L404.4,365.4L395.2,365.5L394.8,365.7L393.5,364.5L392,364.4L390.7,364.9L389.6,365.4L389.4,363.7L389.7,361.4L390.5,359.1L390.7,357.9L391.5,355.6L392,354.5L393.3,352.8L394.1,351.6L394.4,349.7L394.3,348.2L393.6,347.3L393,345.7L392.4,344.1L392.6,343.6L393.3,342.6L392.6,340L392.1,338.3L391,336.6L391.2,336.1L392.2,335.8L392.8,335.8L393.7,335.5ZM391.5,335L390.9,335.3L390.3,333.4L391.2,332.2L391.9,331.8L392.8,332.7L392,333.2L391.6,333.9Z"/>
<path fill="#ef6548" d="M393,314.3L392.7,314.1L391.4,314.5L389.9,314.1L388.9,314.3L385.1,314.2L385.4,312.2L384.5,310.4L383.5,310L383,308.8L382.4,308.5L382.4,307.7L383,305.9L384.1,303.4L384.8,303.3L386.1,301.8L387,301.8L388.3,302.8L389.9,302L390.1,300.9L390.6,299.8L390.9,298.5L392.2,297.4L392.6,295.6L393.1,295L393.4,293.7L394,292L395.9,290L396,289.1L396.3,288.6L395.3,287.6L395.4,286.8L396,286.6L397,288.3L397.2,290L397.1,291.8L398.4,294.1L397.1,294.1L396.4,294.3L395.4,294L394.9,295.3L396.3,296.8L397.3,297.2L397.6,298.3L398.4,300.1L398,300.8L396.9,303.5L396.3,303.9L396.2,306L396.4,307.1L396.2,307.8L397.3,309.2L397.5,310.1L398.4,311.5L399.4,312.3L399.5,313.5L399.8,314.3L399.6,315.7L397.8,315.1L395.9,314.4Z"/>
<path fill="#ef6548" d="M396,286.6L396.3,285.4L394.8,285.3L394.8,283.6L393.8,282.7L394.7,279.2L397.6,276.8L397.6,273.4L398.4,268.1L398.9,267L397.9,266.1L397.8,265.2L397,264.6L396.3,260.5L398.6,259.1L407.7,264.1L416.9,269.1L417.4,279.4L415.4,279.2L414.4,281.2L413.8,282.8L414.3,283.4L413.6,284.2L413.9,285.3L413.3,286.4L413.1,287.3L413.9,287.2L414.4,288.2L414.5,289.7L415.3,290.5L415.3,291.1L413.9,291.5L412.7,292.6L411.1,295.5L409,296.7L406.7,296.5L406.1,296.7L406.3,297.7L405.1,298.6L404.2,299.6L401.3,300.6L400.7,300L400.3,299.9L399.9,300.6L398,300.8L398.4,300.1L397.6,298.3L397.3,297.2L396.3,296.8L394.9,295.3L395.4,294L396.4,294.3L397.1,294.1L398.4,294.1L397.1,291.8L397.2,290L397,288.3Z"/>
<path fill="#ef6548" d="M356.3,307.2L355.2,307.2L353.6,306.7L352.1,306.7L349.4,307.2L347.8,307.9L345.5,308.9L345.1,308.8L345.3,306.7L345.5,306.3L345.4,305.3L344.4,304.2L343.7,304L343,303.3L343.6,302.1L343.3,300.9L343.4,300.1L343.8,300.1L343.9,299L343.8,298.5L344,298.1L344.8,297.8L344.3,295.7L343.8,294.6L344,293.7L344.4,293.5L344.7,293.3L345.3,293.7L347.1,293.7L347.5,293L347.9,293L348.6,292.7L349,293.8L349.5,293.5L350.4,293.1L351.5,293.7L351.9,294.5L352.9,295.1L353.7,294.4L354.8,294.3L356.4,295L357,298.7L356,300.9L355.4,303.9L356.4,306.1Z"/>
<path fill="#ef6548" d="M392.8,332.7L391.9,331.8L391.2,332.2L390.3,333.4L388.4,330.6L390.2,329.1L389.3,327.4L390.1,326.8L391.7,326.4L391.9,325.3L393.1,326.5L395.1,326.7L395.8,325.4L396.1,323.7L395.9,321.6L394.8,320.1L395.8,317.1L395.2,316.6L393.5,316.8L392.8,315.4L393,314.3L395.9,314.4L397.8,315.1L399.6,315.7L399.8,314.3L401,311.8L402.3,310.5L403.9,310.9L405.4,311L405.3,312.6L404.6,314L404.1,315.7L403.8,318L404,319.4L403.6,320.4L403.5,321.3L403.3,322.1L401.8,323.4L400.7,324.7L399.7,327.3L399.7,329.4L399.2,330.3L397.8,331.5L396.4,333.2L395.6,332.7L395.4,332L394.2,332L393.4,333Z"/>
<path fill="#ef6548" d="M459.9,287.4L459.1,286.6L458,285.1L457,284.2L456.4,283.3L454.3,282.3L452.8,282.2L452.2,281.7L450.9,282.3L449.4,281.1L448.8,283.1L446.1,282.5L445.8,281.5L446.6,277.7L446.8,275.9L447.5,275.1L449.1,274.7L450.2,273.2L451.7,276.2L452.4,278.6L453.7,279.9L457,282.4L458.3,283.8L459.6,285.4L460.4,286.2L461.5,287L460.9,287.7Z"/>
<path fill="#ef6548" d="M449.4,281.1L450.9,282.3L452.2,281.7L452.8,282.2L454.3,282.3L456.4,283.3L457,284.2L458,285.1L459.1,286.6L459.9,287.4L459.1,288.6L458.4,289.8L458.6,290.5L458.6,291.3L459.9,291.4L460.5,291.2L461,291.7L460.5,292.6L461.4,294L462.3,295.3L463.2,296.2L470.8,299.3L472.8,299.3L466.4,307.1L463.4,307.3L461.4,309.1L459.9,309.1L459.3,310L457.7,310L456.8,309.1L454.7,310.2L454,311.3L452.5,311.1L452,310.8L451.5,310.8L450.7,310.8L447.8,308.6L446.2,308.6L445.4,307.7L445.4,306.3L444.1,305.8L442.7,303L441.7,302.4L441.3,301.3L440.1,300.1L438.7,299.9L439.4,298.4L440.6,298.3L441,297.5L440.9,295.2L441.5,292.4L442.5,291.7L442.7,290.6L443.7,288.6L445,287.4L445.8,284.8L446.1,282.5L448.8,283.1Z"/>
<path fill="#ef6548" d="M388.4,330.6L386.1,328L384.5,325.8L383.1,323.1L383.2,322.2L383.7,321.4L384.3,319.5L384.7,317.6L385.5,317.4L388.9,317.4L388.9,314.3L389.9,314.1L391.4,314.5L392.7,314.1L393,314.3L392.8,315.4L393.5,316.8L395.2,316.6L395.8,317.1L394.8,320.1L395.9,321.6L396.1,323.7L395.8,325.4L395.1,326.7L393.1,326.5L391.9,325.3L391.7,326.4L390.1,326.8L389.3,327.4L390.2,329.1Z"/>
<path fill="#ef6548" d="M365.3,304.7L361.7,306.2L360.4,307.1L358.3,307.9L356.3,307.2L356.4,306.1L355.4,303.9L356,300.9L357,298.7L356.4,295L356,293.1L356.1,291.6L360.1,291.4L361.1,291.6L361.8,291.2L362.9,291.4L362.7,292.2L363.7,293.6L363.7,295.5L363.9,297.5L364.5,298.5L364,300.8L364.2,302.1L364.8,303.8Z"/>
<path fill="#ef6548" d="M343.4,300.1L342.8,300.1L342.3,301.1L341.7,301.1L341.2,300.5L341.4,299.5L340.4,297.9L339.8,298.2L339.3,298.2L338.7,298.4L338.7,297.4L338.4,296.8L338.4,296L338,294.9L337.3,294L335.5,294L334.9,294.5L334.3,294.5L333.9,295.1L333.6,295.8L332.4,296.9L331.4,295.4L330.5,294.4L329.9,294L329.4,293.5L329.1,292.4L328.8,291.8L328.1,291.4L329.2,290.1L329.9,290.1L330.5,289.7L331,289.7L331.3,289.4L331.2,288.5L331.4,288.2L331.5,287.3L332.6,287.4L334.2,288L334.7,287.9L334.9,287.6L336.1,287.9L336.5,287.7L336.6,288.7L337,288.7L337.6,288.3L337.9,288.4L338.6,289.1L339.5,289.3L340.2,288.7L340.9,288.4L341.5,288L341.9,288.1L342.4,288.6L342.7,289.4L343.6,290.4L343.2,291.1L343.1,292L343.6,291.7L343.8,292L343.7,292.8L344.4,293.5L344,293.7L343.8,294.6L344.3,295.7L344.8,297.8L344,298.1L343.8,298.5L343.9,299L343.8,300.1Z"/>
<path fill="#ef6548" d="M328.1,291.4L326.9,290.3L326,290.1L325.4,289.4L325.5,289L324.8,288.4L324.6,287.9L325.9,287.4L326.6,287.5L327.2,287.2L331.5,287.3L331.4,288.2L331.2,288.5L331.3,289.4L331,289.7L330.5,289.7L329.9,290.1L329.2,290.1Z"/>
<path fill="#ef6548" d="M384.7,317.6L384.3,317.2L385.1,314.2L388.9,314.3L388.9,317.4L385.5,317.4Z"/>
<path fill="#ef6548" d="M345.1,308.8L344.5,308.8L342.1,307.6L340,305.6L338.1,304.2L336.5,302.5L337.1,301.6L337.2,300.9L338.3,299.5L339.3,298.2L339.8,298.2L340.4,297.9L341.4,299.5L341.2,300.5L341.7,301.1L342.3,301.1L342.8,300.1L343.4,300.1L343.3,300.9L343.6,302.1L343,303.3L343.7,304L344.4,304.2L345.4,305.3L345.5,306.3L345.3,306.7Z"/>
<path fill="#ef6548" d="M476.4,352.8L476.9,353.9L477.4,355.6L477.6,358.7L478.1,360L477.8,361.2L477.3,362L476.7,360.5L476.2,361.2L476.5,363.2L476.2,364.3L475.5,364.9L475.3,367.1L474.1,370.1L472.8,373.7L471,378.7L469.9,382.3L468.6,385.3L466.7,386L464.6,387.1L463.4,386.4L461.7,385.5L461.2,384.1L461.2,381.8L460.6,379.7L460.5,377.8L461,375.9L462.1,375.5L462.2,374.6L463.4,372.6L463.7,371L463.3,369.7L462.9,368.1L462.9,365.7L463.8,364.2L464.2,362.6L465.3,362.5L466.6,361.9L467.5,361.4L468.5,361.4L469.9,359.9L471.9,358.3L472.6,357L472.4,355.9L473.3,356.2L474.7,354.4L474.8,352.8L475.6,351.6Z"/>
<path fill="#ef6548" d="M442.1,350.3L443.8,350.1L446.6,350.8L447.2,350.5L448.8,350.4L449.6,349.6L451,349.7L453.5,348.7L455.4,347.1L455.7,348.3L455.6,350.9L455.8,353.2L455.7,357.3L456,358.6L455.2,360.4L454.3,362.2L452.7,363.9L450.6,364.9L448,366.1L445.2,368.9L444.3,369.4L442.7,371.3L441.7,371.9L441.4,373.7L442.4,375.7L442.7,377.2L442.7,378L443.1,377.9L442.9,380.5L442.5,381.7L443,382.1L442.6,383.2L441.6,384.1L439.7,385L436.9,386.4L435.8,387.4L436,388.5L436.5,388.7L436.2,390L434.5,390L434.4,388.9L434.2,387.7L434,386.8L434.6,383.8L434.1,382L433.3,378.3L435.8,375.3L436.5,373.5L436.8,373.2L437.1,371.7L436.8,370.9L437,369L437.5,367.2L437.7,363.8L436.5,363L435.5,362.8L435,362.2L434,361.6L432.1,361.7L431.9,360.7L431.8,358.8L438.8,356.7L440.1,357.9L440.7,357.7L441.6,358.4L441.7,359.4L441.2,360.6L441.2,362.5L442.7,364.1L443.4,362.3L444.4,361.7L444.4,358.4L443.5,356.5L442.7,355.6L441.9,355.7L441.4,352.3Z"/>
<path fill="#ef6548" d="M442.1,350.3L441.4,352.3L441.9,355.7L442.7,355.6L443.5,356.5L444.4,358.4L444.4,361.7L443.4,362.3L442.7,364.1L441.2,362.5L441.2,360.6L441.7,359.4L441.6,358.4L440.7,357.7L440.1,357.9L438.8,356.7L437.6,356L438.4,353.6L439.2,352.7L438.8,350.5L439.3,348.4L439.7,347.7L439.2,345.5L438.1,344.3L440.4,344.8L440.8,345.5L441.6,346.7Z"/>
<path fill="#ef6548" d="M382.4,307.7L380,308.7L379.2,308.5L378.3,309.1L376.4,309.1L375.2,307.4L374.4,305.5L372.8,303.8L371.1,303.9L369,303.9L369.2,299.6L369.1,298L369.5,296.3L370.2,295.5L371.4,293.9L371.1,293.2L371.6,292.2L371,290.6L371.1,289.7L371.3,287.4L371.9,286.4L372.2,284.9L372.8,284.3L375.3,284L377.6,285L378.5,285.9L379.6,286L380.7,285.4L383.5,286.7L384.7,286.6L386,285.5L387.3,285.6L388,285.2L389.2,285.4L391,286.2L392.8,284.7L393.3,284.8L394.9,287.7L395.3,287.6L396.3,288.6L396,289.1L395.9,290L394,292L393.4,293.7L393.1,295L392.6,295.6L392.2,297.4L390.9,298.5L390.6,299.8L390.1,300.9L389.9,302L388.3,302.8L387,301.8L386.1,301.8L384.8,303.3L384.1,303.4L383,305.9Z"/>
<path fill="#ef6548" d="M440.9,295.5L441,297.5L440.6,298.3L439.4,298.4L438.7,299.9L440.1,300.1L441.3,301.3L441.7,302.4L442.7,303L444.1,305.8L442.6,307.5L441.2,309.1L439.8,310.3L438.2,310.3L436.3,310.9L434.9,310.3L433.9,311L431.9,309.3L431.3,308.2L430,308.7L429,308.6L428.4,309L427.3,308.7L425.9,306.5L425.5,305.7L423.8,304.7L423.2,303.1L422.2,302L420.7,300.6L420.6,299.8L419.3,298.7L417.8,297.7L418.5,297.4L419.2,296.9L419.8,294.6L420.4,293.4L422.1,293L422.5,293.7L423.7,295.3L424.3,295.5L425.1,295L426.8,295.1L427.1,295.7L429.4,295.7L429.5,295.1L430.6,294.6L430.9,293.9L431.7,293.3L433.7,294.8L434.9,294.6L436,292.7L437.2,291.3L436.9,289.7L436.4,288.9L437.7,288.8L437.9,288.2L438.9,288.4L438.7,290.3L439.1,292.2L440.3,293.2L440.6,294.1L440.6,295.4Z"/>
<path fill="#ef6548" d="M336.5,302.5L335.9,302.3L334.3,301.2L333.1,299.8L332.7,298.9L332.4,296.9L333.6,295.8L333.9,295.1L334.3,294.5L334.9,294.5L335.5,294L337.3,294L338,294.9L338.4,296L338.4,296.8L338.7,297.4L338.7,298.4L339.3,298.2L338.3,299.5L337.2,300.9L337.1,301.6Z"/>
<path fill="#ef6548" d="M367.1,304.2L365.3,304.7L364.8,303.8L364.2,302.1L364,300.8L364.5,298.5L363.9,297.5L363.7,295.5L363.7,293.6L362.7,292.2L362.9,291.4L364.9,291.5L364.6,292.9L365.3,293.6L366.1,294.5L366.2,295.8L366.7,296.4L366.6,302.4Z"/>
<path fill="#ef6548" d="M441.1,322.7L441.4,323L449.8,328.3L449.9,329.8L453.2,332.4L452.1,335.6L452.2,337.1L453.6,338.1L453.7,338.7L453,340.3L453.1,341.1L452.9,342.4L453.7,344L454.6,346.6L455.4,347.1L453.5,348.7L451,349.7L449.6,349.6L448.8,350.4L447.2,350.5L446.6,350.8L443.8,350.1L442.1,350.3L441.6,346.7L440.8,345.5L440.4,344.8L438.1,344.3L436.8,343.5L435.4,343.1L434.5,342.6L433.5,342L432.3,338.7L431,337.2L430.6,335.7L430.8,334.4L430.5,332L431.4,331.8L432.3,330.9L433.2,329.5L433.7,329L433.7,328.1L433.2,327.5L433.1,326.5L433.8,326.2L433.9,324.6L433,323.2L433.8,322.8L436.4,322.9Z"/>
<path fill="#ef6548" d="M436.4,322.9L433.8,322.8L433,323.2L431.6,324L431.1,323.7L431.1,321.7L431.6,320.7L431.8,318.6L432.2,317.4L433.1,316.1L434,315.4L434.7,314.4L433.8,314.1L433.9,311L434.9,310.3L436.3,310.9L438.2,310.3L439.8,310.3L441.2,309.1L442.3,310.9L442.6,312.2L443.7,315.2L442.8,317.1L441.7,318.9L441,319.9L441.1,322.7Z"/>
<path fill="#ef6548" d="M438.1,344.3L439.2,345.5L439.7,347.7L439.3,348.4L438.8,350.5L439.2,352.7L438.4,353.6L437.6,356L438.8,356.7L431.8,358.8L431.9,360.7L430.2,361.1L428.9,362.1L428.6,363L427.7,363.2L425.7,365.4L424.3,367L423.6,367.1L422.8,366.8L420.3,366.5L419.9,366.3L419.9,366.1L419,365.5L417.6,365.4L415.7,366L414.2,364.3L412.8,362.2L413.1,353.9L417.8,353.9L417.7,353L418,352L417.7,350.8L417.9,349.5L417.7,348.7L418.5,348.8L418.6,349.6L419.7,349.6L421.1,349.8L421.9,351L423.7,351.3L425.1,350.5L425.6,351.9L427.4,352.3L428.2,353.4L429.1,354.8L430.8,354.8L430.7,352L430.1,352.5L428.5,351.5L427.9,351L428.2,348.4L428.7,345.3L428.2,344.1L428.9,342.5L429.5,342.2L432.6,341.7L433.5,342L434.5,342.6L435.4,343.1L436.8,343.5Z"/>
<path fill="#ef6548" d="M721.6,338L721,338.3L720,337.3L719.2,335.6L718.8,333.6L719.1,333.4L719.3,334.1L720,334.7L721,336.4L722,337.3ZM712.9,334.5L711.7,334.7L711.3,335.5L710,336.1L708.7,336.7L707.5,336.7L705.7,335.9L704.4,335.2L704.7,334.4L706.7,334.8L708,334.6L708.4,333.3L708.7,333.3L708.9,334.6L710.2,334.4L710.9,333.6L712.2,332.6L712.1,331.1L713.5,331L713.9,331.5L713.8,332.9ZM701.5,339.5L703.4,341.2L704.6,344L706,343.9L705.8,345L707.5,345.5L706.7,346L709.1,347.1L708.7,347.8L707.2,348L706.7,347.3L704.8,347L702.5,346.7L700.9,345L699.7,343.6L698.7,341.3L695.8,340.1L693.8,340.9L692.3,341.7L692.5,343.7L690.6,344.6L689.3,344.1L686.9,344L687.6,335.5L688,327L691.9,328.8L696.1,330.3L697.6,331.6L698.8,332.9L699.1,334.5L702.8,336.1L703.3,337.5L701.1,337.8ZM715.7,332L715,332.6L714.6,331.1L714.1,330.1L713.1,329.2L711.9,328.1L710.2,327.4L710.9,326.7L712.1,327.5L712.9,328L713.8,328.7L714.7,329.8L715.5,330.6Z"/>
<path fill="#ef6548" d="M735,347.6L735.5,348.5L733.9,348.5L733.2,346.9L734.5,347.5ZM732.3,346L731.4,346L730,345.8L729.6,345.4L729.8,344.3L731.3,344.8L732,345.3ZM734.3,345.3L733.9,345.8L732.4,343.5L732.1,341.9L732.9,341.9L733.5,344ZM730.5,342L730.5,342.5L728.8,341.4L727.6,340.5L726.9,339.6L727.2,339.3L728.2,339.9L730,341.1ZM725.3,339.4L724.9,339.5L723.9,338.9L723,337.9L723.2,337.4L724.5,338.5Z"/>
<path fill="#ef6548" d="M462.6,350.6L462.5,350.1L462.3,349.8L462,350.1L461.9,350.6L462,351.2L462.2,351.4L462.5,351.2ZM465.1,352.1L464.9,351.8L464.6,351.7L464.3,351.8L464.1,352.1L464.3,352.3L464.6,352.5L464.9,352.3ZM463.4,352.4L463.3,352.3L463.1,352.2L462.9,352.3L462.8,352.4L462.8,352.5L463.1,352.6L463.3,352.5Z"/>
<path fill="#d7301f" d="M369,303.9L367.1,304.2L366.6,302.4L366.7,296.4L366.2,295.8L366.1,294.5L365.3,293.6L364.6,292.9L364.9,291.5L365.7,291.2L366.2,290L367.3,289.8L367.8,289L368.6,288.3L369.4,288.2L371.1,289.7L371,290.6L371.6,292.2L371.1,293.2L371.4,293.9L370.2,295.5L369.5,296.3L369.1,298L369.2,299.6Z"/>
<path fill="#d7301f" d="M356.4,295L354.8,294.3L353.7,294.4L352.9,295.1L351.9,294.5L351.5,293.7L350.4,293.1L350.3,291.6L350.9,290.5L350.9,289.6L352.7,287.4L353.1,285.7L353.7,285L354.8,285.4L355.7,284.8L356.1,284.2L357.8,283L358.3,282.2L360.4,281.1L361.7,280.7L362.2,281.2L363.7,281.2L363.5,282.5L363.8,283.7L365.1,285.4L365.2,286.6L367.8,287.2L367.8,289L367.3,289.8L366.2,290L365.7,291.2L364.9,291.5L362.9,291.4L361.8,291.2L361.1,291.6L360.1,291.4L356.1,291.6L356,293.1Z"/>
<path fill="#d7301f" d="M430.5,332L430.3,328.8L429.8,327.6L431.2,327.8L431.9,326.3L433.1,326.5L433.2,327.5L433.7,328.1L433.7,329L433.2,329.5L432.3,330.9L431.4,331.8Z"/>
<path fill="#d7301f" d="M398,300.8L399.9,300.6L400.3,299.9L400.7,300L401.3,300.6L404.2,299.6L405.1,298.6L406.3,297.7L406.1,296.7L406.7,296.5L409,296.7L411.1,295.5L412.7,292.6L413.9,291.5L415.3,291.1L415.6,292.2L416.9,293.9L417,294.9L416.6,296L416.8,296.8L417.6,297.6L419.3,298.7L420.6,299.8L420.7,300.6L422.2,302L423.2,303.1L423.8,304.7L425.5,305.7L425.9,306.5L425.1,306.8L423.7,306.7L421.9,306.5L421.1,306.7L420.7,307.3L420,307.4L419.1,306.9L416.5,308.2L415.5,307.9L415.2,308.1L414.5,309.7L412.8,309.2L411.1,308.9L409.6,307.9L407.7,307.1L406.5,307.9L405.6,309.2L405.4,311L403.9,310.9L402.3,310.5L401,311.8L399.8,314.3L399.5,313.5L399.4,312.3L398.4,311.5L397.5,310.1L397.3,309.2L396.2,307.8L396.4,307.1L396.2,306L396.3,303.9L396.9,303.5Z"/>
<path fill="#d7301f" d="M433.9,311L433.8,314.1L434.7,314.4L434,315.4L433.1,316.1L432.2,317.4L431.8,318.6L431.6,320.7L431.1,321.7L431.1,323.7L430.4,324.4L430.3,326L430,326.2L429.8,327.6L430.3,328.8L430.5,332L430.8,334.4L430.6,335.7L431,337.2L432.3,338.7L433.5,342L432.6,341.7L429.5,342.2L428.9,342.5L428.2,344.1L428.7,345.3L428.2,348.4L427.9,351L428.5,351.5L430.1,352.5L430.7,352L430.8,354.8L429.1,354.8L428.2,353.4L427.4,352.3L425.6,351.9L425.1,350.5L423.7,351.3L421.9,351L421.1,349.8L419.7,349.6L418.6,349.6L418.5,348.8L417.7,348.7L416.7,348.6L415.2,349L414.3,348.9L413.7,349.1L413.9,346L413.1,345.1L413,343.5L413.3,341.9L412.9,340.9L412.8,339.2L410.1,339.3L410.3,338.3L409.1,338.3L409,338.8L407.5,338.9L406.9,340.4L406.6,341.1L405.3,340.7L404.6,341.1L403,341.3L402.2,339.9L401.6,339.1L401,337.5L400.4,335.5L393.7,335.5L392.8,335.8L392.2,335.8L391.2,336.1L390.9,335.3L391.5,335L391.6,333.9L392,333.2L392.8,332.7L393.4,333L394.2,332L395.4,332L395.6,332.7L396.4,333.2L397.8,331.5L399.2,330.3L399.7,329.4L399.7,327.3L400.7,324.7L401.8,323.4L403.3,322.1L403.5,321.3L403.6,320.4L404,319.4L403.8,318L404.1,315.7L404.6,314L405.3,312.6L405.4,311L405.6,309.2L406.5,307.9L407.7,307.1L409.6,307.9L411.1,308.9L412.8,309.2L414.5,309.7L415.2,308.1L415.5,307.9L416.5,308.2L419.1,306.9L420,307.4L420.7,307.3L421.1,306.7L421.9,306.5L423.7,306.7L425.1,306.8L425.9,306.5L427.3,308.7L428.4,309L429,308.6L430,308.7L431.3,308.2L431.9,309.3Z"/>
<path fill="#d7301f" d="M335,282L335.8,281.6L336.2,280L336.9,280L338.5,280.7L339.8,280.2L340.7,280.3L341.1,279.8L350.2,279.7L350.7,277.9L350.3,277.6L349.3,266.3L348.4,255L351.8,255L359.4,260.7L367,266.4L367.5,267.6L368.9,268.3L370,268.8L370,270.4L372.5,270.2L372.6,276.2L371.3,277.9L371.2,279.5L369.1,280L366,280.2L365.2,281.1L363.7,281.2L362.2,281.2L361.7,280.7L360.4,281.1L358.3,282.2L357.8,283L356.1,284.2L355.7,284.8L354.8,285.4L353.7,285L353.1,285.7L352.7,287.4L350.9,289.6L350.9,290.5L350.3,291.6L350.4,293.1L349.5,293.5L349,293.8L348.6,292.7L347.9,293L347.5,293L347.1,293.7L345.3,293.7L344.7,293.3L344.4,293.5L343.7,292.8L343.8,292L343.6,291.7L343.1,292L343.2,291.1L343.6,290.4L342.7,289.4L342.4,288.6L341.9,288.1L341.5,288L340.9,288.4L340.2,288.7L339.5,289.3L338.6,289.1L337.9,288.4L337.6,288.3L337,288.7L336.6,288.7L336.5,287.7L336.6,286.9L336.4,285.9L335.6,285.1L335.1,283.7Z"/>
<path fill="#d7301f" d="M367.8,289L367.8,287.2L365.2,286.6L365.1,285.4L363.8,283.7L363.5,282.5L363.7,281.2L365.2,281.1L366,280.2L369.1,280L371.2,279.5L371.3,277.9L372.6,276.2L372.5,270.2L375.7,269L382.2,263.9L389.9,258.9L393.5,260L394.8,261.5L396.3,260.5L397,264.6L397.8,265.2L397.9,266.1L398.9,267L398.4,268.1L397.6,273.4L397.6,276.8L394.7,279.2L393.8,282.7L394.8,283.6L394.8,285.3L396.3,285.4L396,286.6L395.4,286.8L395.3,287.6L394.9,287.7L393.3,284.8L392.8,284.7L391,286.2L389.2,285.4L388,285.2L387.3,285.6L386,285.5L384.7,286.6L383.5,286.7L380.7,285.4L379.6,286L378.5,285.9L377.6,285L375.3,284L372.8,284.3L372.2,284.9L371.9,286.4L371.3,287.4L371.1,289.7L369.4,288.2L368.6,288.3Z"/>
</g>
<g class="nd">
<path d="M427.2,395.8L427.9,396.6L427.2,397.9L426.7,398.7L425.5,399.1L425,400L424.2,400.2L422.7,398.2L424,396.6L425.2,395.5L426.3,395Z"/>
</g>
<text class="title" x="17" y="39.6" textLength="576.5" lengthAdjust="spacingAndGlyphs">New cases of malaria per 1,000 people at risk, 2024</text>
<text class="sub" x="17.6" y="66.5" textLength="702.5" lengthAdjust="spacingAndGlyphs">Malaria is a life-threatening disease caused by parasites that are transmitted by certain types of mosquitoes.</text>
<g>
<rect x="769" y="16" width="65" height="35.8" fill="#002147"/>
<rect x="769" y="49.1" width="65" height="2.7" fill="#ce261e"/>
<text x="774" y="30.6" font-weight="bold" font-size="11.4" fill="#fff" textLength="54.8" lengthAdjust="spacingAndGlyphs">Our World</text>
<text x="783.5" y="42.6" font-weight="bold" font-size="11.4" fill="#fff" textLength="36.2" lengthAdjust="spacingAndGlyphs">in Data</text>
</g>
<g class="lg">
<rect x="186.2" y="537" width="47.6" height="11.5" fill="url(#h)" stroke="#b4b4b4" stroke-width=".7"/>
<path d="M210,534.3V537" stroke="#b4b4b4" stroke-width=".8"/>
<text x="210" y="530" text-anchor="middle">No data</text>
<rect x="253.60" y="537" width="58.65" height="11.5" fill="#fef0d9"/>
<rect x="312.25" y="537" width="58.65" height="11.5" fill="#fdd49e"/>
<rect x="370.90" y="537" width="58.65" height="11.5" fill="#fdbb84"/>
<rect x="429.55" y="537" width="58.65" height="11.5" fill="#fc8d59"/>
<rect x="488.20" y="537" width="58.65" height="11.5" fill="#ef6548"/>
<rect x="546.85" y="537" width="58.65" height="11.5" fill="#d7301f"/>
<path d="M605.50,537H658.85L663.85,542.75L658.85,548.5H605.50Z" fill="#990000"/>
<path d="M253.60,537H658.85L663.85,542.75L658.85,548.5H253.60Z" fill="none" stroke="#8a7a70" stroke-opacity=".6" stroke-width=".6"/>
<path d="M253.60,534.2V548.5M312.25,534.2V548.5M370.90,534.2V548.5M429.55,534.2V548.5M488.20,534.2V548.5M546.85,534.2V548.5M605.50,534.2V548.5" stroke="#555" stroke-opacity=".65" stroke-width=".75"/>
<text x="253.60" y="530" text-anchor="middle">0</text>
<text x="312.25" y="530" text-anchor="middle">10</text>
<text x="370.90" y="530" text-anchor="middle">30</text>
<text x="429.55" y="530" text-anchor="middle">50</text>
<text x="488.20" y="530" text-anchor="middle">100</text>
<text x="546.85" y="530" text-anchor="middle">300</text>
<text x="605.50" y="530" text-anchor="middle">500</text>
</g>
<text class="foot" x="17.6" y="580.2" font-weight="bold" textLength="70.8" lengthAdjust="spacingAndGlyphs">Data source:</text>
<text class="foot" x="91.9" y="580.2" textLength="448.3" lengthAdjust="spacingAndGlyphs">World Health Organization (Global Health Observatory), via World Bank (2026)</text>
<text class="foot" x="621.7" y="580.2" textLength="210" lengthAdjust="spacingAndGlyphs">OurWorldinData.org/malaria | CC BY</text>
</svg>
</body></html>
